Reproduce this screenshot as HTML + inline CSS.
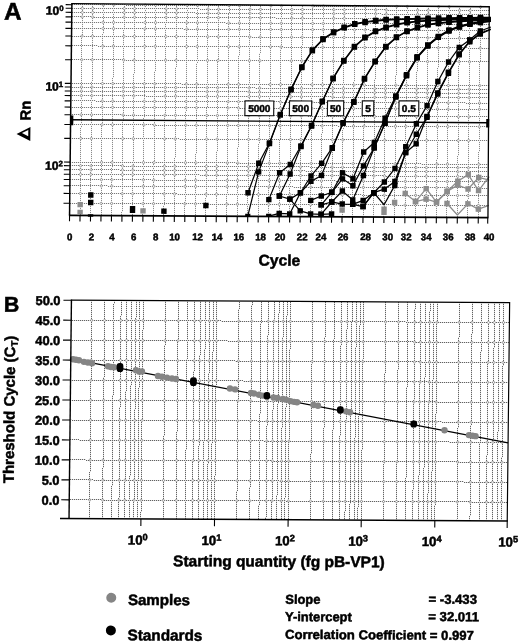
<!DOCTYPE html>
<html><head><meta charset="utf-8"><title>Figure</title>
<style>
html,body{margin:0;padding:0;background:#fff;}
body{width:520px;height:644px;overflow:hidden;font-family:"Liberation Sans",sans-serif;}
svg{display:block;filter:grayscale(1);}
svg text{font-family:"Liberation Sans",sans-serif;font-weight:bold;stroke:#000;stroke-width:0.5px;}
</style></head><body>
<svg width="520" height="644" viewBox="0 0 520 644">
<defs>
<pattern id="av" patternUnits="userSpaceOnUse" width="1" height="2"><rect width="1" height="1" fill="#8a8a8a"/><rect y="1" width="1" height="1" fill="#f1f1f1"/></pattern>
<pattern id="ah" patternUnits="userSpaceOnUse" width="2" height="1"><rect width="1" height="1" fill="#787878"/><rect x="1" width="1" height="1" fill="#ebebeb"/></pattern>
<pattern id="bv" patternUnits="userSpaceOnUse" width="1" height="2"><rect width="1" height="1" fill="#626262"/><rect y="1" width="1" height="1" fill="#dcdcdc"/></pattern>
<pattern id="bh" patternUnits="userSpaceOnUse" width="2" height="1"><rect width="1" height="1" fill="#626262"/><rect x="1" width="1" height="1" fill="#dcdcdc"/></pattern>
</defs>
<rect width="520" height="644" fill="#fff"/>
<g shape-rendering="crispEdges">
<rect x="82" y="4" width="1" height="33" fill="url(#av)"/>
<rect x="81" y="37" width="1" height="91" fill="url(#av)"/>
<rect x="80" y="128" width="1" height="87" fill="url(#av)"/>
<rect x="92" y="4" width="1" height="77" fill="url(#av)"/>
<rect x="91" y="81" width="1" height="91" fill="url(#av)"/>
<rect x="90" y="172" width="1" height="43" fill="url(#av)"/>
<rect x="103" y="4" width="1" height="30" fill="url(#av)"/>
<rect x="102" y="34" width="1" height="91" fill="url(#av)"/>
<rect x="101" y="125" width="1" height="90" fill="url(#av)"/>
<rect x="113" y="4" width="1" height="74" fill="url(#av)"/>
<rect x="112" y="78" width="1" height="90" fill="url(#av)"/>
<rect x="111" y="168" width="1" height="47" fill="url(#av)"/>
<rect x="124" y="4" width="1" height="26" fill="url(#av)"/>
<rect x="123" y="30" width="1" height="91" fill="url(#av)"/>
<rect x="122" y="121" width="1" height="91" fill="url(#av)"/>
<rect x="121" y="212" width="1" height="3" fill="url(#av)"/>
<rect x="134" y="4" width="1" height="70" fill="url(#av)"/>
<rect x="133" y="74" width="1" height="91" fill="url(#av)"/>
<rect x="132" y="165" width="1" height="50" fill="url(#av)"/>
<rect x="145" y="5" width="1" height="22" fill="url(#av)"/>
<rect x="144" y="27" width="1" height="91" fill="url(#av)"/>
<rect x="143" y="118" width="1" height="91" fill="url(#av)"/>
<rect x="142" y="209" width="1" height="6" fill="url(#av)"/>
<rect x="155" y="5" width="1" height="66" fill="url(#av)"/>
<rect x="154" y="71" width="1" height="90" fill="url(#av)"/>
<rect x="153" y="161" width="1" height="54" fill="url(#av)"/>
<rect x="166" y="5" width="1" height="18" fill="url(#av)"/>
<rect x="165" y="23" width="1" height="91" fill="url(#av)"/>
<rect x="164" y="114" width="1" height="91" fill="url(#av)"/>
<rect x="163" y="205" width="1" height="10" fill="url(#av)"/>
<rect x="176" y="5" width="1" height="62" fill="url(#av)"/>
<rect x="175" y="67" width="1" height="91" fill="url(#av)"/>
<rect x="174" y="158" width="1" height="57" fill="url(#av)"/>
<rect x="187" y="5" width="1" height="15" fill="url(#av)"/>
<rect x="186" y="20" width="1" height="91" fill="url(#av)"/>
<rect x="185" y="111" width="1" height="91" fill="url(#av)"/>
<rect x="184" y="202" width="1" height="13" fill="url(#av)"/>
<rect x="197" y="5" width="1" height="58" fill="url(#av)"/>
<rect x="196" y="63" width="1" height="91" fill="url(#av)"/>
<rect x="195" y="154" width="1" height="62" fill="url(#av)"/>
<rect x="208" y="5" width="1" height="11" fill="url(#av)"/>
<rect x="207" y="16" width="1" height="91" fill="url(#av)"/>
<rect x="206" y="107" width="1" height="91" fill="url(#av)"/>
<rect x="205" y="198" width="1" height="18" fill="url(#av)"/>
<rect x="218" y="5" width="1" height="55" fill="url(#av)"/>
<rect x="217" y="60" width="1" height="91" fill="url(#av)"/>
<rect x="216" y="151" width="1" height="65" fill="url(#av)"/>
<rect x="229" y="5" width="1" height="8" fill="url(#av)"/>
<rect x="228" y="13" width="1" height="91" fill="url(#av)"/>
<rect x="227" y="104" width="1" height="91" fill="url(#av)"/>
<rect x="226" y="195" width="1" height="21" fill="url(#av)"/>
<rect x="239" y="5" width="1" height="51" fill="url(#av)"/>
<rect x="238" y="56" width="1" height="91" fill="url(#av)"/>
<rect x="237" y="147" width="1" height="69" fill="url(#av)"/>
<rect x="250" y="5" width="1" height="4" fill="url(#av)"/>
<rect x="249" y="9" width="1" height="91" fill="url(#av)"/>
<rect x="248" y="100" width="1" height="91" fill="url(#av)"/>
<rect x="247" y="191" width="1" height="25" fill="url(#av)"/>
<rect x="260" y="5" width="1" height="48" fill="url(#av)"/>
<rect x="259" y="53" width="1" height="91" fill="url(#av)"/>
<rect x="258" y="144" width="1" height="72" fill="url(#av)"/>
<rect x="271" y="5" width="1" height="1" fill="url(#av)"/>
<rect x="270" y="6" width="1" height="91" fill="url(#av)"/>
<rect x="269" y="97" width="1" height="90" fill="url(#av)"/>
<rect x="268" y="187" width="1" height="29" fill="url(#av)"/>
<rect x="281" y="5" width="1" height="44" fill="url(#av)"/>
<rect x="280" y="49" width="1" height="91" fill="url(#av)"/>
<rect x="279" y="140" width="1" height="76" fill="url(#av)"/>
<rect x="291" y="5" width="1" height="88" fill="url(#av)"/>
<rect x="290" y="93" width="1" height="91" fill="url(#av)"/>
<rect x="289" y="184" width="1" height="32" fill="url(#av)"/>
<rect x="302" y="5" width="1" height="41" fill="url(#av)"/>
<rect x="301" y="46" width="1" height="91" fill="url(#av)"/>
<rect x="300" y="137" width="1" height="79" fill="url(#av)"/>
<rect x="312" y="5" width="1" height="85" fill="url(#av)"/>
<rect x="311" y="90" width="1" height="90" fill="url(#av)"/>
<rect x="310" y="180" width="1" height="36" fill="url(#av)"/>
<rect x="323" y="5" width="1" height="37" fill="url(#av)"/>
<rect x="322" y="42" width="1" height="91" fill="url(#av)"/>
<rect x="321" y="133" width="1" height="83" fill="url(#av)"/>
<rect x="333" y="6" width="1" height="80" fill="url(#av)"/>
<rect x="332" y="86" width="1" height="91" fill="url(#av)"/>
<rect x="331" y="177" width="1" height="39" fill="url(#av)"/>
<rect x="344" y="6" width="1" height="33" fill="url(#av)"/>
<rect x="343" y="39" width="1" height="91" fill="url(#av)"/>
<rect x="342" y="130" width="1" height="86" fill="url(#av)"/>
<rect x="354" y="6" width="1" height="76" fill="url(#av)"/>
<rect x="353" y="82" width="1" height="91" fill="url(#av)"/>
<rect x="352" y="173" width="1" height="43" fill="url(#av)"/>
<rect x="365" y="6" width="1" height="29" fill="url(#av)"/>
<rect x="364" y="35" width="1" height="91" fill="url(#av)"/>
<rect x="363" y="126" width="1" height="90" fill="url(#av)"/>
<rect x="375" y="6" width="1" height="73" fill="url(#av)"/>
<rect x="374" y="79" width="1" height="91" fill="url(#av)"/>
<rect x="373" y="170" width="1" height="47" fill="url(#av)"/>
<rect x="386" y="6" width="1" height="26" fill="url(#av)"/>
<rect x="385" y="32" width="1" height="91" fill="url(#av)"/>
<rect x="384" y="123" width="1" height="91" fill="url(#av)"/>
<rect x="383" y="214" width="1" height="3" fill="url(#av)"/>
<rect x="396" y="6" width="1" height="69" fill="url(#av)"/>
<rect x="395" y="75" width="1" height="91" fill="url(#av)"/>
<rect x="394" y="166" width="1" height="51" fill="url(#av)"/>
<rect x="407" y="6" width="1" height="22" fill="url(#av)"/>
<rect x="406" y="28" width="1" height="91" fill="url(#av)"/>
<rect x="405" y="119" width="1" height="91" fill="url(#av)"/>
<rect x="404" y="210" width="1" height="7" fill="url(#av)"/>
<rect x="417" y="6" width="1" height="66" fill="url(#av)"/>
<rect x="416" y="72" width="1" height="91" fill="url(#av)"/>
<rect x="415" y="163" width="1" height="54" fill="url(#av)"/>
<rect x="428" y="6" width="1" height="19" fill="url(#av)"/>
<rect x="427" y="25" width="1" height="91" fill="url(#av)"/>
<rect x="426" y="116" width="1" height="91" fill="url(#av)"/>
<rect x="425" y="207" width="1" height="10" fill="url(#av)"/>
<rect x="438" y="6" width="1" height="62" fill="url(#av)"/>
<rect x="437" y="68" width="1" height="91" fill="url(#av)"/>
<rect x="436" y="159" width="1" height="58" fill="url(#av)"/>
<rect x="449" y="6" width="1" height="15" fill="url(#av)"/>
<rect x="448" y="21" width="1" height="91" fill="url(#av)"/>
<rect x="447" y="112" width="1" height="91" fill="url(#av)"/>
<rect x="446" y="203" width="1" height="14" fill="url(#av)"/>
<rect x="459" y="6" width="1" height="59" fill="url(#av)"/>
<rect x="458" y="65" width="1" height="91" fill="url(#av)"/>
<rect x="457" y="156" width="1" height="61" fill="url(#av)"/>
<rect x="470" y="6" width="1" height="12" fill="url(#av)"/>
<rect x="469" y="18" width="1" height="91" fill="url(#av)"/>
<rect x="468" y="109" width="1" height="90" fill="url(#av)"/>
<rect x="467" y="199" width="1" height="18" fill="url(#av)"/>
<rect x="480" y="6" width="1" height="55" fill="url(#av)"/>
<rect x="479" y="61" width="1" height="91" fill="url(#av)"/>
<rect x="478" y="152" width="1" height="65" fill="url(#av)"/>
<rect x="72" y="4" width="54" height="1" fill="url(#ah)"/>
<rect x="126" y="5" width="186" height="1" fill="url(#ah)"/>
<rect x="312" y="6" width="178" height="1" fill="url(#ah)"/>
<rect x="72" y="8" width="128" height="1" fill="url(#ah)"/>
<rect x="200" y="9" width="185" height="1" fill="url(#ah)"/>
<rect x="385" y="10" width="105" height="1" fill="url(#ah)"/>
<rect x="72" y="12" width="123" height="1" fill="url(#ah)"/>
<rect x="195" y="13" width="186" height="1" fill="url(#ah)"/>
<rect x="381" y="14" width="108" height="1" fill="url(#ah)"/>
<rect x="72" y="16" width="19" height="1" fill="url(#ah)"/>
<rect x="91" y="17" width="185" height="1" fill="url(#ah)"/>
<rect x="276" y="18" width="185" height="1" fill="url(#ah)"/>
<rect x="461" y="19" width="28" height="1" fill="url(#ah)"/>
<rect x="72" y="22" width="154" height="1" fill="url(#ah)"/>
<rect x="226" y="23" width="186" height="1" fill="url(#ah)"/>
<rect x="412" y="24" width="77" height="1" fill="url(#ah)"/>
<rect x="72" y="28" width="111" height="1" fill="url(#ah)"/>
<rect x="183" y="29" width="186" height="1" fill="url(#ah)"/>
<rect x="369" y="30" width="120" height="1" fill="url(#ah)"/>
<rect x="72" y="36" width="180" height="1" fill="url(#ah)"/>
<rect x="252" y="37" width="186" height="1" fill="url(#ah)"/>
<rect x="438" y="38" width="51" height="1" fill="url(#ah)"/>
<rect x="72" y="45" width="26" height="1" fill="url(#ah)"/>
<rect x="98" y="46" width="185" height="1" fill="url(#ah)"/>
<rect x="283" y="47" width="185" height="1" fill="url(#ah)"/>
<rect x="468" y="48" width="21" height="1" fill="url(#ah)"/>
<rect x="72" y="59" width="52" height="1" fill="url(#ah)"/>
<rect x="124" y="60" width="185" height="1" fill="url(#ah)"/>
<rect x="309" y="61" width="180" height="1" fill="url(#ah)"/>
<rect x="72" y="83" width="109" height="1" fill="url(#ah)"/>
<rect x="181" y="84" width="185" height="1" fill="url(#ah)"/>
<rect x="366" y="85" width="123" height="1" fill="url(#ah)"/>
<rect x="71" y="87" width="184" height="1" fill="url(#ah)"/>
<rect x="255" y="88" width="185" height="1" fill="url(#ah)"/>
<rect x="440" y="89" width="49" height="1" fill="url(#ah)"/>
<rect x="71" y="91" width="179" height="1" fill="url(#ah)"/>
<rect x="250" y="92" width="185" height="1" fill="url(#ah)"/>
<rect x="435" y="93" width="54" height="1" fill="url(#ah)"/>
<rect x="71" y="95" width="75" height="1" fill="url(#ah)"/>
<rect x="146" y="96" width="185" height="1" fill="url(#ah)"/>
<rect x="331" y="97" width="158" height="1" fill="url(#ah)"/>
<rect x="71" y="100" width="25" height="1" fill="url(#ah)"/>
<rect x="96" y="101" width="185" height="1" fill="url(#ah)"/>
<rect x="281" y="102" width="185" height="1" fill="url(#ah)"/>
<rect x="466" y="103" width="23" height="1" fill="url(#ah)"/>
<rect x="71" y="107" width="167" height="1" fill="url(#ah)"/>
<rect x="238" y="108" width="185" height="1" fill="url(#ah)"/>
<rect x="423" y="109" width="65" height="1" fill="url(#ah)"/>
<rect x="71" y="114" width="51" height="1" fill="url(#ah)"/>
<rect x="122" y="115" width="185" height="1" fill="url(#ah)"/>
<rect x="307" y="116" width="181" height="1" fill="url(#ah)"/>
<rect x="71" y="124" width="82" height="1" fill="url(#ah)"/>
<rect x="153" y="125" width="185" height="1" fill="url(#ah)"/>
<rect x="338" y="126" width="150" height="1" fill="url(#ah)"/>
<rect x="71" y="138" width="108" height="1" fill="url(#ah)"/>
<rect x="179" y="139" width="185" height="1" fill="url(#ah)"/>
<rect x="364" y="140" width="124" height="1" fill="url(#ah)"/>
<rect x="71" y="162" width="165" height="1" fill="url(#ah)"/>
<rect x="236" y="163" width="185" height="1" fill="url(#ah)"/>
<rect x="421" y="164" width="67" height="1" fill="url(#ah)"/>
<rect x="71" y="165" width="53" height="1" fill="url(#ah)"/>
<rect x="124" y="166" width="186" height="1" fill="url(#ah)"/>
<rect x="310" y="167" width="178" height="1" fill="url(#ah)"/>
<rect x="71" y="169" width="49" height="1" fill="url(#ah)"/>
<rect x="120" y="170" width="185" height="1" fill="url(#ah)"/>
<rect x="305" y="171" width="183" height="1" fill="url(#ah)"/>
<rect x="71" y="174" width="129" height="1" fill="url(#ah)"/>
<rect x="200" y="175" width="186" height="1" fill="url(#ah)"/>
<rect x="386" y="176" width="102" height="1" fill="url(#ah)"/>
<rect x="70" y="179" width="81" height="1" fill="url(#ah)"/>
<rect x="151" y="180" width="185" height="1" fill="url(#ah)"/>
<rect x="336" y="181" width="152" height="1" fill="url(#ah)"/>
<rect x="70" y="185" width="38" height="1" fill="url(#ah)"/>
<rect x="108" y="186" width="185" height="1" fill="url(#ah)"/>
<rect x="293" y="187" width="185" height="1" fill="url(#ah)"/>
<rect x="478" y="188" width="10" height="1" fill="url(#ah)"/>
<rect x="70" y="193" width="107" height="1" fill="url(#ah)"/>
<rect x="177" y="194" width="185" height="1" fill="url(#ah)"/>
<rect x="362" y="195" width="126" height="1" fill="url(#ah)"/>
<rect x="70" y="203" width="137" height="1" fill="url(#ah)"/>
<rect x="207" y="204" width="186" height="1" fill="url(#ah)"/>
<rect x="393" y="205" width="94" height="1" fill="url(#ah)"/>
<rect x="91" y="301" width="1" height="80" fill="url(#bv)"/>
<rect x="90" y="381" width="1" height="91" fill="url(#bv)"/>
<rect x="89" y="472" width="1" height="46" fill="url(#bv)"/>
<rect x="104" y="301" width="1" height="76" fill="url(#bv)"/>
<rect x="103" y="377" width="1" height="91" fill="url(#bv)"/>
<rect x="102" y="468" width="1" height="50" fill="url(#bv)"/>
<rect x="114" y="301" width="1" height="3" fill="url(#bv)"/>
<rect x="113" y="304" width="1" height="91" fill="url(#bv)"/>
<rect x="112" y="395" width="1" height="91" fill="url(#bv)"/>
<rect x="111" y="486" width="1" height="32" fill="url(#bv)"/>
<rect x="121" y="301" width="1" height="15" fill="url(#bv)"/>
<rect x="120" y="316" width="1" height="91" fill="url(#bv)"/>
<rect x="119" y="407" width="1" height="91" fill="url(#bv)"/>
<rect x="118" y="498" width="1" height="20" fill="url(#bv)"/>
<rect x="126" y="301" width="1" height="90" fill="url(#bv)"/>
<rect x="125" y="391" width="1" height="91" fill="url(#bv)"/>
<rect x="124" y="482" width="1" height="36" fill="url(#bv)"/>
<rect x="131" y="301" width="1" height="84" fill="url(#bv)"/>
<rect x="130" y="385" width="1" height="91" fill="url(#bv)"/>
<rect x="129" y="476" width="1" height="42" fill="url(#bv)"/>
<rect x="136" y="301" width="1" height="17" fill="url(#bv)"/>
<rect x="135" y="318" width="1" height="91" fill="url(#bv)"/>
<rect x="134" y="409" width="1" height="91" fill="url(#bv)"/>
<rect x="133" y="500" width="1" height="18" fill="url(#bv)"/>
<rect x="139" y="301" width="1" height="87" fill="url(#bv)"/>
<rect x="138" y="388" width="1" height="91" fill="url(#bv)"/>
<rect x="137" y="479" width="1" height="39" fill="url(#bv)"/>
<rect x="143" y="301" width="1" height="29" fill="url(#bv)"/>
<rect x="142" y="330" width="1" height="91" fill="url(#bv)"/>
<rect x="141" y="421" width="1" height="91" fill="url(#bv)"/>
<rect x="140" y="512" width="1" height="6" fill="url(#bv)"/>
<rect x="165" y="301" width="1" height="44" fill="url(#bv)"/>
<rect x="164" y="345" width="1" height="91" fill="url(#bv)"/>
<rect x="163" y="436" width="1" height="83" fill="url(#bv)"/>
<rect x="178" y="301" width="1" height="40" fill="url(#bv)"/>
<rect x="177" y="341" width="1" height="91" fill="url(#bv)"/>
<rect x="176" y="432" width="1" height="87" fill="url(#bv)"/>
<rect x="187" y="301" width="1" height="58" fill="url(#bv)"/>
<rect x="186" y="359" width="1" height="91" fill="url(#bv)"/>
<rect x="185" y="450" width="1" height="69" fill="url(#bv)"/>
<rect x="194" y="301" width="1" height="70" fill="url(#bv)"/>
<rect x="193" y="371" width="1" height="91" fill="url(#bv)"/>
<rect x="192" y="462" width="1" height="57" fill="url(#bv)"/>
<rect x="200" y="301" width="1" height="54" fill="url(#bv)"/>
<rect x="199" y="355" width="1" height="91" fill="url(#bv)"/>
<rect x="198" y="446" width="1" height="73" fill="url(#bv)"/>
<rect x="205" y="301" width="1" height="48" fill="url(#bv)"/>
<rect x="204" y="349" width="1" height="91" fill="url(#bv)"/>
<rect x="203" y="440" width="1" height="79" fill="url(#bv)"/>
<rect x="209" y="301" width="1" height="72" fill="url(#bv)"/>
<rect x="208" y="373" width="1" height="91" fill="url(#bv)"/>
<rect x="207" y="464" width="1" height="55" fill="url(#bv)"/>
<rect x="213" y="301" width="1" height="51" fill="url(#bv)"/>
<rect x="212" y="352" width="1" height="91" fill="url(#bv)"/>
<rect x="211" y="443" width="1" height="76" fill="url(#bv)"/>
<rect x="216" y="301" width="1" height="84" fill="url(#bv)"/>
<rect x="215" y="385" width="1" height="91" fill="url(#bv)"/>
<rect x="214" y="476" width="1" height="43" fill="url(#bv)"/>
<rect x="239" y="302" width="1" height="7" fill="url(#bv)"/>
<rect x="238" y="309" width="1" height="91" fill="url(#bv)"/>
<rect x="237" y="400" width="1" height="91" fill="url(#bv)"/>
<rect x="236" y="491" width="1" height="28" fill="url(#bv)"/>
<rect x="252" y="302" width="1" height="3" fill="url(#bv)"/>
<rect x="251" y="305" width="1" height="91" fill="url(#bv)"/>
<rect x="250" y="396" width="1" height="91" fill="url(#bv)"/>
<rect x="249" y="487" width="1" height="32" fill="url(#bv)"/>
<rect x="261" y="302" width="1" height="21" fill="url(#bv)"/>
<rect x="260" y="323" width="1" height="91" fill="url(#bv)"/>
<rect x="259" y="414" width="1" height="91" fill="url(#bv)"/>
<rect x="258" y="505" width="1" height="14" fill="url(#bv)"/>
<rect x="268" y="302" width="1" height="33" fill="url(#bv)"/>
<rect x="267" y="335" width="1" height="91" fill="url(#bv)"/>
<rect x="266" y="426" width="1" height="91" fill="url(#bv)"/>
<rect x="265" y="517" width="1" height="2" fill="url(#bv)"/>
<rect x="274" y="302" width="1" height="18" fill="url(#bv)"/>
<rect x="273" y="320" width="1" height="90" fill="url(#bv)"/>
<rect x="272" y="410" width="1" height="91" fill="url(#bv)"/>
<rect x="271" y="501" width="1" height="18" fill="url(#bv)"/>
<rect x="279" y="302" width="1" height="11" fill="url(#bv)"/>
<rect x="278" y="313" width="1" height="91" fill="url(#bv)"/>
<rect x="277" y="404" width="1" height="91" fill="url(#bv)"/>
<rect x="276" y="495" width="1" height="24" fill="url(#bv)"/>
<rect x="283" y="302" width="1" height="35" fill="url(#bv)"/>
<rect x="282" y="337" width="1" height="91" fill="url(#bv)"/>
<rect x="281" y="428" width="1" height="91" fill="url(#bv)"/>
<rect x="287" y="302" width="1" height="14" fill="url(#bv)"/>
<rect x="286" y="316" width="1" height="91" fill="url(#bv)"/>
<rect x="285" y="407" width="1" height="91" fill="url(#bv)"/>
<rect x="284" y="498" width="1" height="21" fill="url(#bv)"/>
<rect x="290" y="302" width="1" height="47" fill="url(#bv)"/>
<rect x="289" y="349" width="1" height="91" fill="url(#bv)"/>
<rect x="288" y="440" width="1" height="79" fill="url(#bv)"/>
<rect x="312" y="302" width="1" height="62" fill="url(#bv)"/>
<rect x="311" y="364" width="1" height="90" fill="url(#bv)"/>
<rect x="310" y="454" width="1" height="65" fill="url(#bv)"/>
<rect x="325" y="302" width="1" height="35" fill="url(#bv)"/>
<rect x="324" y="337" width="1" height="91" fill="url(#bv)"/>
<rect x="323" y="428" width="1" height="91" fill="url(#bv)"/>
<rect x="334" y="302" width="1" height="37" fill="url(#bv)"/>
<rect x="333" y="339" width="1" height="91" fill="url(#bv)"/>
<rect x="332" y="430" width="1" height="90" fill="url(#bv)"/>
<rect x="341" y="302" width="1" height="43" fill="url(#bv)"/>
<rect x="340" y="345" width="1" height="91" fill="url(#bv)"/>
<rect x="339" y="436" width="1" height="84" fill="url(#bv)"/>
<rect x="347" y="302" width="1" height="27" fill="url(#bv)"/>
<rect x="346" y="329" width="1" height="91" fill="url(#bv)"/>
<rect x="345" y="420" width="1" height="91" fill="url(#bv)"/>
<rect x="344" y="511" width="1" height="9" fill="url(#bv)"/>
<rect x="352" y="302" width="1" height="20" fill="url(#bv)"/>
<rect x="351" y="322" width="1" height="91" fill="url(#bv)"/>
<rect x="350" y="413" width="1" height="91" fill="url(#bv)"/>
<rect x="349" y="504" width="1" height="16" fill="url(#bv)"/>
<rect x="356" y="302" width="1" height="45" fill="url(#bv)"/>
<rect x="355" y="347" width="1" height="91" fill="url(#bv)"/>
<rect x="354" y="438" width="1" height="82" fill="url(#bv)"/>
<rect x="360" y="302" width="1" height="23" fill="url(#bv)"/>
<rect x="359" y="325" width="1" height="91" fill="url(#bv)"/>
<rect x="358" y="416" width="1" height="91" fill="url(#bv)"/>
<rect x="357" y="507" width="1" height="13" fill="url(#bv)"/>
<rect x="363" y="302" width="1" height="57" fill="url(#bv)"/>
<rect x="362" y="359" width="1" height="91" fill="url(#bv)"/>
<rect x="361" y="450" width="1" height="70" fill="url(#bv)"/>
<rect x="385" y="302" width="1" height="71" fill="url(#bv)"/>
<rect x="384" y="373" width="1" height="91" fill="url(#bv)"/>
<rect x="383" y="464" width="1" height="56" fill="url(#bv)"/>
<rect x="398" y="302" width="1" height="68" fill="url(#bv)"/>
<rect x="397" y="370" width="1" height="91" fill="url(#bv)"/>
<rect x="396" y="461" width="1" height="59" fill="url(#bv)"/>
<rect x="407" y="302" width="1" height="85" fill="url(#bv)"/>
<rect x="406" y="387" width="1" height="91" fill="url(#bv)"/>
<rect x="405" y="478" width="1" height="42" fill="url(#bv)"/>
<rect x="415" y="303" width="1" height="6" fill="url(#bv)"/>
<rect x="414" y="309" width="1" height="91" fill="url(#bv)"/>
<rect x="413" y="400" width="1" height="90" fill="url(#bv)"/>
<rect x="412" y="490" width="1" height="30" fill="url(#bv)"/>
<rect x="420" y="303" width="1" height="81" fill="url(#bv)"/>
<rect x="419" y="384" width="1" height="91" fill="url(#bv)"/>
<rect x="418" y="475" width="1" height="45" fill="url(#bv)"/>
<rect x="425" y="303" width="1" height="74" fill="url(#bv)"/>
<rect x="424" y="377" width="1" height="91" fill="url(#bv)"/>
<rect x="423" y="468" width="1" height="52" fill="url(#bv)"/>
<rect x="430" y="303" width="1" height="8" fill="url(#bv)"/>
<rect x="429" y="311" width="1" height="91" fill="url(#bv)"/>
<rect x="428" y="402" width="1" height="91" fill="url(#bv)"/>
<rect x="427" y="493" width="1" height="27" fill="url(#bv)"/>
<rect x="433" y="303" width="1" height="77" fill="url(#bv)"/>
<rect x="432" y="380" width="1" height="91" fill="url(#bv)"/>
<rect x="431" y="471" width="1" height="49" fill="url(#bv)"/>
<rect x="437" y="303" width="1" height="20" fill="url(#bv)"/>
<rect x="436" y="323" width="1" height="91" fill="url(#bv)"/>
<rect x="435" y="414" width="1" height="91" fill="url(#bv)"/>
<rect x="434" y="505" width="1" height="15" fill="url(#bv)"/>
<rect x="459" y="303" width="1" height="34" fill="url(#bv)"/>
<rect x="458" y="337" width="1" height="91" fill="url(#bv)"/>
<rect x="457" y="428" width="1" height="91" fill="url(#bv)"/>
<rect x="456" y="519" width="1" height="1" fill="url(#bv)"/>
<rect x="472" y="303" width="1" height="31" fill="url(#bv)"/>
<rect x="471" y="334" width="1" height="91" fill="url(#bv)"/>
<rect x="470" y="425" width="1" height="91" fill="url(#bv)"/>
<rect x="469" y="516" width="1" height="4" fill="url(#bv)"/>
<rect x="481" y="303" width="1" height="49" fill="url(#bv)"/>
<rect x="480" y="352" width="1" height="90" fill="url(#bv)"/>
<rect x="479" y="442" width="1" height="78" fill="url(#bv)"/>
<rect x="488" y="303" width="1" height="61" fill="url(#bv)"/>
<rect x="487" y="364" width="1" height="91" fill="url(#bv)"/>
<rect x="486" y="455" width="1" height="65" fill="url(#bv)"/>
<rect x="494" y="303" width="1" height="45" fill="url(#bv)"/>
<rect x="493" y="348" width="1" height="91" fill="url(#bv)"/>
<rect x="492" y="439" width="1" height="81" fill="url(#bv)"/>
<rect x="499" y="303" width="1" height="38" fill="url(#bv)"/>
<rect x="498" y="341" width="1" height="91" fill="url(#bv)"/>
<rect x="497" y="432" width="1" height="88" fill="url(#bv)"/>
<rect x="503" y="303" width="1" height="63" fill="url(#bv)"/>
<rect x="502" y="366" width="1" height="91" fill="url(#bv)"/>
<rect x="501" y="457" width="1" height="63" fill="url(#bv)"/>
<rect x="70" y="499" width="31" height="1" fill="url(#bh)"/>
<rect x="101" y="500" width="185" height="1" fill="url(#bh)"/>
<rect x="286" y="501" width="185" height="1" fill="url(#bh)"/>
<rect x="471" y="502" width="36" height="1" fill="url(#bh)"/>
<rect x="70" y="479" width="23" height="1" fill="url(#bh)"/>
<rect x="93" y="480" width="186" height="1" fill="url(#bh)"/>
<rect x="279" y="481" width="185" height="1" fill="url(#bh)"/>
<rect x="464" y="482" width="43" height="1" fill="url(#bh)"/>
<rect x="70" y="459" width="16" height="1" fill="url(#bh)"/>
<rect x="86" y="460" width="185" height="1" fill="url(#bh)"/>
<rect x="271" y="461" width="186" height="1" fill="url(#bh)"/>
<rect x="457" y="462" width="50" height="1" fill="url(#bh)"/>
<rect x="70" y="439" width="9" height="1" fill="url(#bh)"/>
<rect x="79" y="440" width="185" height="1" fill="url(#bh)"/>
<rect x="264" y="441" width="185" height="1" fill="url(#bh)"/>
<rect x="449" y="442" width="59" height="1" fill="url(#bh)"/>
<rect x="71" y="419" width="1" height="1" fill="url(#bh)"/>
<rect x="72" y="420" width="185" height="1" fill="url(#bh)"/>
<rect x="257" y="421" width="185" height="1" fill="url(#bh)"/>
<rect x="442" y="422" width="66" height="1" fill="url(#bh)"/>
<rect x="71" y="400" width="179" height="1" fill="url(#bh)"/>
<rect x="250" y="401" width="185" height="1" fill="url(#bh)"/>
<rect x="435" y="402" width="73" height="1" fill="url(#bh)"/>
<rect x="71" y="380" width="172" height="1" fill="url(#bh)"/>
<rect x="243" y="381" width="185" height="1" fill="url(#bh)"/>
<rect x="428" y="382" width="80" height="1" fill="url(#bh)"/>
<rect x="71" y="360" width="164" height="1" fill="url(#bh)"/>
<rect x="235" y="361" width="186" height="1" fill="url(#bh)"/>
<rect x="421" y="362" width="87" height="1" fill="url(#bh)"/>
<rect x="71" y="340" width="157" height="1" fill="url(#bh)"/>
<rect x="228" y="341" width="185" height="1" fill="url(#bh)"/>
<rect x="413" y="342" width="96" height="1" fill="url(#bh)"/>
<rect x="72" y="320" width="149" height="1" fill="url(#bh)"/>
<rect x="221" y="321" width="185" height="1" fill="url(#bh)"/>
<rect x="406" y="322" width="103" height="1" fill="url(#bh)"/>
</g>
<g transform="matrix(1 0.0054 -0.011 1 3.542 -1.404)">
<g fill="#fff" stroke="#777" stroke-width="0.6"><circle cx="99.84" cy="5.74" r="1.15"/><circle cx="110.32" cy="5.74" r="1.15"/><circle cx="141.76" cy="5.74" r="1.15"/><circle cx="152.24" cy="5.74" r="1.15"/><circle cx="183.68" cy="5.74" r="1.15"/><circle cx="194.16" cy="5.74" r="1.15"/><circle cx="225.60" cy="5.74" r="1.15"/><circle cx="236.08" cy="5.74" r="1.15"/><circle cx="267.52" cy="5.74" r="1.15"/><circle cx="278.00" cy="5.74" r="1.15"/><circle cx="309.44" cy="5.74" r="1.15"/><circle cx="319.92" cy="5.74" r="1.15"/><circle cx="351.36" cy="5.74" r="1.15"/><circle cx="361.84" cy="5.74" r="1.15"/><circle cx="393.28" cy="5.74" r="1.15"/><circle cx="403.76" cy="5.74" r="1.15"/><circle cx="435.20" cy="5.74" r="1.15"/><circle cx="445.68" cy="5.74" r="1.15"/><circle cx="477.12" cy="5.74" r="1.15"/><circle cx="78.88" cy="9.34" r="1.15"/><circle cx="89.36" cy="9.34" r="1.15"/><circle cx="120.80" cy="9.34" r="1.15"/><circle cx="131.28" cy="9.34" r="1.15"/><circle cx="162.72" cy="9.34" r="1.15"/><circle cx="173.20" cy="9.34" r="1.15"/><circle cx="204.64" cy="9.34" r="1.15"/><circle cx="215.12" cy="9.34" r="1.15"/><circle cx="246.56" cy="9.34" r="1.15"/><circle cx="257.04" cy="9.34" r="1.15"/><circle cx="288.48" cy="9.34" r="1.15"/><circle cx="298.96" cy="9.34" r="1.15"/><circle cx="330.40" cy="9.34" r="1.15"/><circle cx="340.88" cy="9.34" r="1.15"/><circle cx="372.32" cy="9.34" r="1.15"/><circle cx="382.80" cy="9.34" r="1.15"/><circle cx="414.24" cy="9.34" r="1.15"/><circle cx="424.72" cy="9.34" r="1.15"/><circle cx="456.16" cy="9.34" r="1.15"/><circle cx="466.64" cy="9.34" r="1.15"/><circle cx="78.88" cy="13.37" r="1.15"/><circle cx="89.36" cy="13.37" r="1.15"/><circle cx="120.80" cy="13.37" r="1.15"/><circle cx="131.28" cy="13.37" r="1.15"/><circle cx="162.72" cy="13.37" r="1.15"/><circle cx="173.20" cy="13.37" r="1.15"/><circle cx="204.64" cy="13.37" r="1.15"/><circle cx="215.12" cy="13.37" r="1.15"/><circle cx="246.56" cy="13.37" r="1.15"/><circle cx="257.04" cy="13.37" r="1.15"/><circle cx="288.48" cy="13.37" r="1.15"/><circle cx="298.96" cy="13.37" r="1.15"/><circle cx="330.40" cy="13.37" r="1.15"/><circle cx="340.88" cy="13.37" r="1.15"/><circle cx="372.32" cy="13.37" r="1.15"/><circle cx="382.80" cy="13.37" r="1.15"/><circle cx="414.24" cy="13.37" r="1.15"/><circle cx="424.72" cy="13.37" r="1.15"/><circle cx="456.16" cy="13.37" r="1.15"/><circle cx="466.64" cy="13.37" r="1.15"/><circle cx="78.88" cy="17.93" r="1.15"/><circle cx="89.36" cy="17.93" r="1.15"/><circle cx="120.80" cy="17.93" r="1.15"/><circle cx="131.28" cy="17.93" r="1.15"/><circle cx="162.72" cy="17.93" r="1.15"/><circle cx="173.20" cy="17.93" r="1.15"/><circle cx="204.64" cy="17.93" r="1.15"/><circle cx="215.12" cy="17.93" r="1.15"/><circle cx="246.56" cy="17.93" r="1.15"/><circle cx="257.04" cy="17.93" r="1.15"/><circle cx="288.48" cy="17.93" r="1.15"/><circle cx="298.96" cy="17.93" r="1.15"/><circle cx="330.40" cy="17.93" r="1.15"/><circle cx="340.88" cy="17.93" r="1.15"/><circle cx="372.32" cy="17.93" r="1.15"/><circle cx="382.80" cy="17.93" r="1.15"/><circle cx="414.24" cy="17.93" r="1.15"/><circle cx="424.72" cy="17.93" r="1.15"/><circle cx="456.16" cy="17.93" r="1.15"/><circle cx="466.64" cy="17.93" r="1.15"/><circle cx="99.84" cy="23.20" r="1.15"/><circle cx="110.32" cy="23.20" r="1.15"/><circle cx="141.76" cy="23.20" r="1.15"/><circle cx="152.24" cy="23.20" r="1.15"/><circle cx="183.68" cy="23.20" r="1.15"/><circle cx="194.16" cy="23.20" r="1.15"/><circle cx="225.60" cy="23.20" r="1.15"/><circle cx="236.08" cy="23.20" r="1.15"/><circle cx="267.52" cy="23.20" r="1.15"/><circle cx="278.00" cy="23.20" r="1.15"/><circle cx="309.44" cy="23.20" r="1.15"/><circle cx="319.92" cy="23.20" r="1.15"/><circle cx="351.36" cy="23.20" r="1.15"/><circle cx="361.84" cy="23.20" r="1.15"/><circle cx="393.28" cy="23.20" r="1.15"/><circle cx="403.76" cy="23.20" r="1.15"/><circle cx="435.20" cy="23.20" r="1.15"/><circle cx="445.68" cy="23.20" r="1.15"/><circle cx="477.12" cy="23.20" r="1.15"/><circle cx="99.84" cy="29.43" r="1.15"/><circle cx="110.32" cy="29.43" r="1.15"/><circle cx="141.76" cy="29.43" r="1.15"/><circle cx="152.24" cy="29.43" r="1.15"/><circle cx="183.68" cy="29.43" r="1.15"/><circle cx="194.16" cy="29.43" r="1.15"/><circle cx="225.60" cy="29.43" r="1.15"/><circle cx="236.08" cy="29.43" r="1.15"/><circle cx="267.52" cy="29.43" r="1.15"/><circle cx="278.00" cy="29.43" r="1.15"/><circle cx="309.44" cy="29.43" r="1.15"/><circle cx="319.92" cy="29.43" r="1.15"/><circle cx="351.36" cy="29.43" r="1.15"/><circle cx="361.84" cy="29.43" r="1.15"/><circle cx="393.28" cy="29.43" r="1.15"/><circle cx="403.76" cy="29.43" r="1.15"/><circle cx="435.20" cy="29.43" r="1.15"/><circle cx="445.68" cy="29.43" r="1.15"/><circle cx="477.12" cy="29.43" r="1.15"/><circle cx="78.88" cy="37.06" r="1.15"/><circle cx="89.36" cy="37.06" r="1.15"/><circle cx="120.80" cy="37.06" r="1.15"/><circle cx="131.28" cy="37.06" r="1.15"/><circle cx="162.72" cy="37.06" r="1.15"/><circle cx="173.20" cy="37.06" r="1.15"/><circle cx="204.64" cy="37.06" r="1.15"/><circle cx="215.12" cy="37.06" r="1.15"/><circle cx="246.56" cy="37.06" r="1.15"/><circle cx="257.04" cy="37.06" r="1.15"/><circle cx="288.48" cy="37.06" r="1.15"/><circle cx="298.96" cy="37.06" r="1.15"/><circle cx="330.40" cy="37.06" r="1.15"/><circle cx="340.88" cy="37.06" r="1.15"/><circle cx="372.32" cy="37.06" r="1.15"/><circle cx="382.80" cy="37.06" r="1.15"/><circle cx="414.24" cy="37.06" r="1.15"/><circle cx="424.72" cy="37.06" r="1.15"/><circle cx="456.16" cy="37.06" r="1.15"/><circle cx="466.64" cy="37.06" r="1.15"/><circle cx="99.84" cy="46.89" r="1.15"/><circle cx="110.32" cy="46.89" r="1.15"/><circle cx="141.76" cy="46.89" r="1.15"/><circle cx="152.24" cy="46.89" r="1.15"/><circle cx="183.68" cy="46.89" r="1.15"/><circle cx="194.16" cy="46.89" r="1.15"/><circle cx="225.60" cy="46.89" r="1.15"/><circle cx="236.08" cy="46.89" r="1.15"/><circle cx="267.52" cy="46.89" r="1.15"/><circle cx="278.00" cy="46.89" r="1.15"/><circle cx="309.44" cy="46.89" r="1.15"/><circle cx="319.92" cy="46.89" r="1.15"/><circle cx="351.36" cy="46.89" r="1.15"/><circle cx="361.84" cy="46.89" r="1.15"/><circle cx="393.28" cy="46.89" r="1.15"/><circle cx="403.76" cy="46.89" r="1.15"/><circle cx="435.20" cy="46.89" r="1.15"/><circle cx="445.68" cy="46.89" r="1.15"/><circle cx="477.12" cy="46.89" r="1.15"/><circle cx="78.88" cy="60.75" r="1.15"/><circle cx="89.36" cy="60.75" r="1.15"/><circle cx="120.80" cy="60.75" r="1.15"/><circle cx="131.28" cy="60.75" r="1.15"/><circle cx="162.72" cy="60.75" r="1.15"/><circle cx="173.20" cy="60.75" r="1.15"/><circle cx="204.64" cy="60.75" r="1.15"/><circle cx="215.12" cy="60.75" r="1.15"/><circle cx="246.56" cy="60.75" r="1.15"/><circle cx="257.04" cy="60.75" r="1.15"/><circle cx="288.48" cy="60.75" r="1.15"/><circle cx="298.96" cy="60.75" r="1.15"/><circle cx="330.40" cy="60.75" r="1.15"/><circle cx="340.88" cy="60.75" r="1.15"/><circle cx="372.32" cy="60.75" r="1.15"/><circle cx="382.80" cy="60.75" r="1.15"/><circle cx="414.24" cy="60.75" r="1.15"/><circle cx="424.72" cy="60.75" r="1.15"/><circle cx="456.16" cy="60.75" r="1.15"/><circle cx="466.64" cy="60.75" r="1.15"/><circle cx="99.84" cy="84.44" r="1.15"/><circle cx="110.32" cy="84.44" r="1.15"/><circle cx="141.76" cy="84.44" r="1.15"/><circle cx="152.24" cy="84.44" r="1.15"/><circle cx="183.68" cy="84.44" r="1.15"/><circle cx="194.16" cy="84.44" r="1.15"/><circle cx="225.60" cy="84.44" r="1.15"/><circle cx="236.08" cy="84.44" r="1.15"/><circle cx="267.52" cy="84.44" r="1.15"/><circle cx="278.00" cy="84.44" r="1.15"/><circle cx="309.44" cy="84.44" r="1.15"/><circle cx="319.92" cy="84.44" r="1.15"/><circle cx="351.36" cy="84.44" r="1.15"/><circle cx="361.84" cy="84.44" r="1.15"/><circle cx="393.28" cy="84.44" r="1.15"/><circle cx="403.76" cy="84.44" r="1.15"/><circle cx="435.20" cy="84.44" r="1.15"/><circle cx="445.68" cy="84.44" r="1.15"/><circle cx="477.12" cy="84.44" r="1.15"/><circle cx="78.88" cy="88.04" r="1.15"/><circle cx="89.36" cy="88.04" r="1.15"/><circle cx="120.80" cy="88.04" r="1.15"/><circle cx="131.28" cy="88.04" r="1.15"/><circle cx="162.72" cy="88.04" r="1.15"/><circle cx="173.20" cy="88.04" r="1.15"/><circle cx="204.64" cy="88.04" r="1.15"/><circle cx="215.12" cy="88.04" r="1.15"/><circle cx="246.56" cy="88.04" r="1.15"/><circle cx="257.04" cy="88.04" r="1.15"/><circle cx="288.48" cy="88.04" r="1.15"/><circle cx="298.96" cy="88.04" r="1.15"/><circle cx="330.40" cy="88.04" r="1.15"/><circle cx="340.88" cy="88.04" r="1.15"/><circle cx="372.32" cy="88.04" r="1.15"/><circle cx="382.80" cy="88.04" r="1.15"/><circle cx="414.24" cy="88.04" r="1.15"/><circle cx="424.72" cy="88.04" r="1.15"/><circle cx="456.16" cy="88.04" r="1.15"/><circle cx="466.64" cy="88.04" r="1.15"/><circle cx="78.88" cy="92.07" r="1.15"/><circle cx="89.36" cy="92.07" r="1.15"/><circle cx="120.80" cy="92.07" r="1.15"/><circle cx="131.28" cy="92.07" r="1.15"/><circle cx="162.72" cy="92.07" r="1.15"/><circle cx="173.20" cy="92.07" r="1.15"/><circle cx="204.64" cy="92.07" r="1.15"/><circle cx="215.12" cy="92.07" r="1.15"/><circle cx="246.56" cy="92.07" r="1.15"/><circle cx="257.04" cy="92.07" r="1.15"/><circle cx="288.48" cy="92.07" r="1.15"/><circle cx="298.96" cy="92.07" r="1.15"/><circle cx="330.40" cy="92.07" r="1.15"/><circle cx="340.88" cy="92.07" r="1.15"/><circle cx="372.32" cy="92.07" r="1.15"/><circle cx="382.80" cy="92.07" r="1.15"/><circle cx="414.24" cy="92.07" r="1.15"/><circle cx="424.72" cy="92.07" r="1.15"/><circle cx="456.16" cy="92.07" r="1.15"/><circle cx="466.64" cy="92.07" r="1.15"/><circle cx="78.88" cy="96.63" r="1.15"/><circle cx="89.36" cy="96.63" r="1.15"/><circle cx="120.80" cy="96.63" r="1.15"/><circle cx="131.28" cy="96.63" r="1.15"/><circle cx="162.72" cy="96.63" r="1.15"/><circle cx="173.20" cy="96.63" r="1.15"/><circle cx="204.64" cy="96.63" r="1.15"/><circle cx="215.12" cy="96.63" r="1.15"/><circle cx="246.56" cy="96.63" r="1.15"/><circle cx="257.04" cy="96.63" r="1.15"/><circle cx="288.48" cy="96.63" r="1.15"/><circle cx="298.96" cy="96.63" r="1.15"/><circle cx="330.40" cy="96.63" r="1.15"/><circle cx="340.88" cy="96.63" r="1.15"/><circle cx="372.32" cy="96.63" r="1.15"/><circle cx="382.80" cy="96.63" r="1.15"/><circle cx="414.24" cy="96.63" r="1.15"/><circle cx="424.72" cy="96.63" r="1.15"/><circle cx="456.16" cy="96.63" r="1.15"/><circle cx="466.64" cy="96.63" r="1.15"/><circle cx="99.84" cy="101.90" r="1.15"/><circle cx="110.32" cy="101.90" r="1.15"/><circle cx="141.76" cy="101.90" r="1.15"/><circle cx="152.24" cy="101.90" r="1.15"/><circle cx="183.68" cy="101.90" r="1.15"/><circle cx="194.16" cy="101.90" r="1.15"/><circle cx="225.60" cy="101.90" r="1.15"/><circle cx="236.08" cy="101.90" r="1.15"/><circle cx="267.52" cy="101.90" r="1.15"/><circle cx="278.00" cy="101.90" r="1.15"/><circle cx="309.44" cy="101.90" r="1.15"/><circle cx="319.92" cy="101.90" r="1.15"/><circle cx="351.36" cy="101.90" r="1.15"/><circle cx="361.84" cy="101.90" r="1.15"/><circle cx="393.28" cy="101.90" r="1.15"/><circle cx="403.76" cy="101.90" r="1.15"/><circle cx="435.20" cy="101.90" r="1.15"/><circle cx="445.68" cy="101.90" r="1.15"/><circle cx="477.12" cy="101.90" r="1.15"/><circle cx="99.84" cy="108.13" r="1.15"/><circle cx="110.32" cy="108.13" r="1.15"/><circle cx="141.76" cy="108.13" r="1.15"/><circle cx="152.24" cy="108.13" r="1.15"/><circle cx="183.68" cy="108.13" r="1.15"/><circle cx="194.16" cy="108.13" r="1.15"/><circle cx="225.60" cy="108.13" r="1.15"/><circle cx="236.08" cy="108.13" r="1.15"/><circle cx="267.52" cy="108.13" r="1.15"/><circle cx="278.00" cy="108.13" r="1.15"/><circle cx="309.44" cy="108.13" r="1.15"/><circle cx="319.92" cy="108.13" r="1.15"/><circle cx="351.36" cy="108.13" r="1.15"/><circle cx="361.84" cy="108.13" r="1.15"/><circle cx="393.28" cy="108.13" r="1.15"/><circle cx="403.76" cy="108.13" r="1.15"/><circle cx="435.20" cy="108.13" r="1.15"/><circle cx="445.68" cy="108.13" r="1.15"/><circle cx="477.12" cy="108.13" r="1.15"/><circle cx="78.88" cy="115.76" r="1.15"/><circle cx="89.36" cy="115.76" r="1.15"/><circle cx="120.80" cy="115.76" r="1.15"/><circle cx="131.28" cy="115.76" r="1.15"/><circle cx="162.72" cy="115.76" r="1.15"/><circle cx="173.20" cy="115.76" r="1.15"/><circle cx="204.64" cy="115.76" r="1.15"/><circle cx="215.12" cy="115.76" r="1.15"/><circle cx="246.56" cy="115.76" r="1.15"/><circle cx="257.04" cy="115.76" r="1.15"/><circle cx="288.48" cy="115.76" r="1.15"/><circle cx="298.96" cy="115.76" r="1.15"/><circle cx="330.40" cy="115.76" r="1.15"/><circle cx="340.88" cy="115.76" r="1.15"/><circle cx="372.32" cy="115.76" r="1.15"/><circle cx="382.80" cy="115.76" r="1.15"/><circle cx="414.24" cy="115.76" r="1.15"/><circle cx="424.72" cy="115.76" r="1.15"/><circle cx="456.16" cy="115.76" r="1.15"/><circle cx="466.64" cy="115.76" r="1.15"/><circle cx="99.84" cy="125.59" r="1.15"/><circle cx="110.32" cy="125.59" r="1.15"/><circle cx="141.76" cy="125.59" r="1.15"/><circle cx="152.24" cy="125.59" r="1.15"/><circle cx="183.68" cy="125.59" r="1.15"/><circle cx="194.16" cy="125.59" r="1.15"/><circle cx="225.60" cy="125.59" r="1.15"/><circle cx="236.08" cy="125.59" r="1.15"/><circle cx="267.52" cy="125.59" r="1.15"/><circle cx="278.00" cy="125.59" r="1.15"/><circle cx="309.44" cy="125.59" r="1.15"/><circle cx="319.92" cy="125.59" r="1.15"/><circle cx="351.36" cy="125.59" r="1.15"/><circle cx="361.84" cy="125.59" r="1.15"/><circle cx="393.28" cy="125.59" r="1.15"/><circle cx="403.76" cy="125.59" r="1.15"/><circle cx="435.20" cy="125.59" r="1.15"/><circle cx="445.68" cy="125.59" r="1.15"/><circle cx="477.12" cy="125.59" r="1.15"/><circle cx="78.88" cy="139.45" r="1.15"/><circle cx="89.36" cy="139.45" r="1.15"/><circle cx="120.80" cy="139.45" r="1.15"/><circle cx="131.28" cy="139.45" r="1.15"/><circle cx="162.72" cy="139.45" r="1.15"/><circle cx="173.20" cy="139.45" r="1.15"/><circle cx="204.64" cy="139.45" r="1.15"/><circle cx="215.12" cy="139.45" r="1.15"/><circle cx="246.56" cy="139.45" r="1.15"/><circle cx="257.04" cy="139.45" r="1.15"/><circle cx="288.48" cy="139.45" r="1.15"/><circle cx="298.96" cy="139.45" r="1.15"/><circle cx="330.40" cy="139.45" r="1.15"/><circle cx="340.88" cy="139.45" r="1.15"/><circle cx="372.32" cy="139.45" r="1.15"/><circle cx="382.80" cy="139.45" r="1.15"/><circle cx="414.24" cy="139.45" r="1.15"/><circle cx="424.72" cy="139.45" r="1.15"/><circle cx="456.16" cy="139.45" r="1.15"/><circle cx="466.64" cy="139.45" r="1.15"/><circle cx="99.84" cy="163.14" r="1.15"/><circle cx="110.32" cy="163.14" r="1.15"/><circle cx="141.76" cy="163.14" r="1.15"/><circle cx="152.24" cy="163.14" r="1.15"/><circle cx="183.68" cy="163.14" r="1.15"/><circle cx="194.16" cy="163.14" r="1.15"/><circle cx="225.60" cy="163.14" r="1.15"/><circle cx="236.08" cy="163.14" r="1.15"/><circle cx="267.52" cy="163.14" r="1.15"/><circle cx="278.00" cy="163.14" r="1.15"/><circle cx="309.44" cy="163.14" r="1.15"/><circle cx="319.92" cy="163.14" r="1.15"/><circle cx="351.36" cy="163.14" r="1.15"/><circle cx="361.84" cy="163.14" r="1.15"/><circle cx="393.28" cy="163.14" r="1.15"/><circle cx="403.76" cy="163.14" r="1.15"/><circle cx="435.20" cy="163.14" r="1.15"/><circle cx="445.68" cy="163.14" r="1.15"/><circle cx="477.12" cy="163.14" r="1.15"/><circle cx="78.88" cy="166.74" r="1.15"/><circle cx="89.36" cy="166.74" r="1.15"/><circle cx="120.80" cy="166.74" r="1.15"/><circle cx="131.28" cy="166.74" r="1.15"/><circle cx="162.72" cy="166.74" r="1.15"/><circle cx="173.20" cy="166.74" r="1.15"/><circle cx="204.64" cy="166.74" r="1.15"/><circle cx="215.12" cy="166.74" r="1.15"/><circle cx="246.56" cy="166.74" r="1.15"/><circle cx="257.04" cy="166.74" r="1.15"/><circle cx="288.48" cy="166.74" r="1.15"/><circle cx="298.96" cy="166.74" r="1.15"/><circle cx="330.40" cy="166.74" r="1.15"/><circle cx="340.88" cy="166.74" r="1.15"/><circle cx="372.32" cy="166.74" r="1.15"/><circle cx="382.80" cy="166.74" r="1.15"/><circle cx="414.24" cy="166.74" r="1.15"/><circle cx="424.72" cy="166.74" r="1.15"/><circle cx="456.16" cy="166.74" r="1.15"/><circle cx="466.64" cy="166.74" r="1.15"/><circle cx="78.88" cy="170.77" r="1.15"/><circle cx="89.36" cy="170.77" r="1.15"/><circle cx="120.80" cy="170.77" r="1.15"/><circle cx="131.28" cy="170.77" r="1.15"/><circle cx="162.72" cy="170.77" r="1.15"/><circle cx="173.20" cy="170.77" r="1.15"/><circle cx="204.64" cy="170.77" r="1.15"/><circle cx="215.12" cy="170.77" r="1.15"/><circle cx="246.56" cy="170.77" r="1.15"/><circle cx="257.04" cy="170.77" r="1.15"/><circle cx="288.48" cy="170.77" r="1.15"/><circle cx="298.96" cy="170.77" r="1.15"/><circle cx="330.40" cy="170.77" r="1.15"/><circle cx="340.88" cy="170.77" r="1.15"/><circle cx="372.32" cy="170.77" r="1.15"/><circle cx="382.80" cy="170.77" r="1.15"/><circle cx="414.24" cy="170.77" r="1.15"/><circle cx="424.72" cy="170.77" r="1.15"/><circle cx="456.16" cy="170.77" r="1.15"/><circle cx="466.64" cy="170.77" r="1.15"/><circle cx="78.88" cy="175.33" r="1.15"/><circle cx="89.36" cy="175.33" r="1.15"/><circle cx="120.80" cy="175.33" r="1.15"/><circle cx="131.28" cy="175.33" r="1.15"/><circle cx="162.72" cy="175.33" r="1.15"/><circle cx="173.20" cy="175.33" r="1.15"/><circle cx="204.64" cy="175.33" r="1.15"/><circle cx="215.12" cy="175.33" r="1.15"/><circle cx="246.56" cy="175.33" r="1.15"/><circle cx="257.04" cy="175.33" r="1.15"/><circle cx="288.48" cy="175.33" r="1.15"/><circle cx="298.96" cy="175.33" r="1.15"/><circle cx="330.40" cy="175.33" r="1.15"/><circle cx="340.88" cy="175.33" r="1.15"/><circle cx="372.32" cy="175.33" r="1.15"/><circle cx="382.80" cy="175.33" r="1.15"/><circle cx="414.24" cy="175.33" r="1.15"/><circle cx="424.72" cy="175.33" r="1.15"/><circle cx="456.16" cy="175.33" r="1.15"/><circle cx="466.64" cy="175.33" r="1.15"/><circle cx="99.84" cy="180.60" r="1.15"/><circle cx="110.32" cy="180.60" r="1.15"/><circle cx="141.76" cy="180.60" r="1.15"/><circle cx="152.24" cy="180.60" r="1.15"/><circle cx="183.68" cy="180.60" r="1.15"/><circle cx="194.16" cy="180.60" r="1.15"/><circle cx="225.60" cy="180.60" r="1.15"/><circle cx="236.08" cy="180.60" r="1.15"/><circle cx="267.52" cy="180.60" r="1.15"/><circle cx="278.00" cy="180.60" r="1.15"/><circle cx="309.44" cy="180.60" r="1.15"/><circle cx="319.92" cy="180.60" r="1.15"/><circle cx="351.36" cy="180.60" r="1.15"/><circle cx="361.84" cy="180.60" r="1.15"/><circle cx="393.28" cy="180.60" r="1.15"/><circle cx="403.76" cy="180.60" r="1.15"/><circle cx="435.20" cy="180.60" r="1.15"/><circle cx="445.68" cy="180.60" r="1.15"/><circle cx="477.12" cy="180.60" r="1.15"/><circle cx="99.84" cy="186.83" r="1.15"/><circle cx="110.32" cy="186.83" r="1.15"/><circle cx="141.76" cy="186.83" r="1.15"/><circle cx="152.24" cy="186.83" r="1.15"/><circle cx="183.68" cy="186.83" r="1.15"/><circle cx="194.16" cy="186.83" r="1.15"/><circle cx="225.60" cy="186.83" r="1.15"/><circle cx="236.08" cy="186.83" r="1.15"/><circle cx="267.52" cy="186.83" r="1.15"/><circle cx="278.00" cy="186.83" r="1.15"/><circle cx="309.44" cy="186.83" r="1.15"/><circle cx="319.92" cy="186.83" r="1.15"/><circle cx="351.36" cy="186.83" r="1.15"/><circle cx="361.84" cy="186.83" r="1.15"/><circle cx="393.28" cy="186.83" r="1.15"/><circle cx="403.76" cy="186.83" r="1.15"/><circle cx="435.20" cy="186.83" r="1.15"/><circle cx="445.68" cy="186.83" r="1.15"/><circle cx="477.12" cy="186.83" r="1.15"/><circle cx="78.88" cy="194.46" r="1.15"/><circle cx="89.36" cy="194.46" r="1.15"/><circle cx="120.80" cy="194.46" r="1.15"/><circle cx="131.28" cy="194.46" r="1.15"/><circle cx="162.72" cy="194.46" r="1.15"/><circle cx="173.20" cy="194.46" r="1.15"/><circle cx="204.64" cy="194.46" r="1.15"/><circle cx="215.12" cy="194.46" r="1.15"/><circle cx="246.56" cy="194.46" r="1.15"/><circle cx="257.04" cy="194.46" r="1.15"/><circle cx="288.48" cy="194.46" r="1.15"/><circle cx="298.96" cy="194.46" r="1.15"/><circle cx="330.40" cy="194.46" r="1.15"/><circle cx="340.88" cy="194.46" r="1.15"/><circle cx="372.32" cy="194.46" r="1.15"/><circle cx="382.80" cy="194.46" r="1.15"/><circle cx="414.24" cy="194.46" r="1.15"/><circle cx="424.72" cy="194.46" r="1.15"/><circle cx="456.16" cy="194.46" r="1.15"/><circle cx="466.64" cy="194.46" r="1.15"/><circle cx="99.84" cy="204.29" r="1.15"/><circle cx="110.32" cy="204.29" r="1.15"/><circle cx="141.76" cy="204.29" r="1.15"/><circle cx="152.24" cy="204.29" r="1.15"/><circle cx="183.68" cy="204.29" r="1.15"/><circle cx="194.16" cy="204.29" r="1.15"/><circle cx="225.60" cy="204.29" r="1.15"/><circle cx="236.08" cy="204.29" r="1.15"/><circle cx="267.52" cy="204.29" r="1.15"/><circle cx="278.00" cy="204.29" r="1.15"/><circle cx="309.44" cy="204.29" r="1.15"/><circle cx="319.92" cy="204.29" r="1.15"/><circle cx="351.36" cy="204.29" r="1.15"/><circle cx="361.84" cy="204.29" r="1.15"/><circle cx="393.28" cy="204.29" r="1.15"/><circle cx="403.76" cy="204.29" r="1.15"/><circle cx="435.20" cy="204.29" r="1.15"/><circle cx="445.68" cy="204.29" r="1.15"/><circle cx="477.12" cy="204.29" r="1.15"/></g>
<g id="seriesA">
<path d="M403.8 192.7L414.2 200.7L424.7 187.8L435.2 201.1L445.7 190.5L456.2 180.2L466.6 173.5L477.1 189.4L487.6 175.3" stroke="#8c8c8c" stroke-width="1.25" fill="none" stroke-linejoin="round"/><rect x="401.1" y="190.0" width="5.4" height="5.4" fill="#8c8c8c"/><rect x="411.5" y="198.0" width="5.4" height="5.4" fill="#8c8c8c"/><rect x="422.0" y="185.1" width="5.4" height="5.4" fill="#8c8c8c"/><rect x="432.5" y="198.4" width="5.4" height="5.4" fill="#8c8c8c"/><rect x="443.0" y="187.8" width="5.4" height="5.4" fill="#8c8c8c"/><rect x="453.5" y="177.5" width="5.4" height="5.4" fill="#8c8c8c"/><rect x="463.9" y="170.8" width="5.4" height="5.4" fill="#8c8c8c"/><rect x="474.4" y="186.7" width="5.4" height="5.4" fill="#8c8c8c"/>
<path d="M414.2 200.7L424.7 198.3L435.2 201.1L445.7 190.5L456.2 184.1L466.6 187.9L477.1 176.3L487.6 178.8" stroke="#8c8c8c" stroke-width="1.25" fill="none" stroke-linejoin="round"/><rect x="411.5" y="198.0" width="5.4" height="5.4" fill="#8c8c8c"/><rect x="422.0" y="195.6" width="5.4" height="5.4" fill="#8c8c8c"/><rect x="432.5" y="198.4" width="5.4" height="5.4" fill="#8c8c8c"/><rect x="443.0" y="187.8" width="5.4" height="5.4" fill="#8c8c8c"/><rect x="453.5" y="181.4" width="5.4" height="5.4" fill="#8c8c8c"/><rect x="463.9" y="185.2" width="5.4" height="5.4" fill="#8c8c8c"/><rect x="474.4" y="173.6" width="5.4" height="5.4" fill="#8c8c8c"/>
<path d="M445.7 202.5L456.2 213.9L466.6 202.7L477.1 208.0L487.6 204.2" stroke="#8c8c8c" stroke-width="1.25" fill="none" stroke-linejoin="round"/><rect x="443.0" y="199.8" width="5.4" height="5.4" fill="#8c8c8c"/><rect x="463.9" y="200.0" width="5.4" height="5.4" fill="#8c8c8c"/><rect x="474.4" y="205.3" width="5.4" height="5.4" fill="#8c8c8c"/>
<rect x="76.2" y="202.9" width="5.4" height="5.4" fill="#8c8c8c"/>
<rect x="76.2" y="210.7" width="5.4" height="4.4" fill="#8c8c8c"/>
<rect x="139.1" y="208.8" width="5.4" height="5.4" fill="#8c8c8c"/>
<rect x="338.2" y="206.9" width="5.4" height="5.4" fill="#8c8c8c"/>
<rect x="380.1" y="205.9" width="5.4" height="8.4" fill="#8c8c8c"/>
<rect x="390.6" y="199.1" width="5.4" height="5.4" fill="#8c8c8c"/>
<path d="M288.5 199.0L299.0 210.6L309.4 213.7L319.9 214.0L330.4 213.6" stroke="#000" stroke-width="1.25" fill="none" stroke-linejoin="round"/><rect x="285.8" y="196.3" width="5.4" height="5.4" fill="#000"/><rect x="296.3" y="207.9" width="5.4" height="5.4" fill="#000"/><rect x="306.7" y="211.0" width="5.4" height="5.4" fill="#000"/><rect x="317.2" y="211.3" width="5.4" height="5.4" fill="#000"/><rect x="327.7" y="210.9" width="5.4" height="5.4" fill="#000"/>
<path d="M319.9 204.5L330.4 201.6L340.9 203.6L351.4 203.9L361.8 206.0L372.3 192.1" stroke="#000" stroke-width="1.25" fill="none" stroke-linejoin="round"/><rect x="317.2" y="201.8" width="5.4" height="5.4" fill="#000"/><rect x="327.7" y="198.9" width="5.4" height="5.4" fill="#000"/><rect x="338.2" y="200.9" width="5.4" height="5.4" fill="#000"/><rect x="348.7" y="201.2" width="5.4" height="5.4" fill="#000"/><rect x="359.1" y="203.3" width="5.4" height="5.4" fill="#000"/><rect x="369.6" y="189.4" width="5.4" height="5.4" fill="#000"/>
<path d="M372.3 192.1L382.8 204.1L393.3 184.7L403.8 151.7L414.2 143.0L424.7 115.6L435.2 91.9L445.7 71.2L456.2 52.9L466.6 40.1L477.1 32.2L487.6 27.8" stroke="#000" stroke-width="1.25" fill="none" stroke-linejoin="round"/><rect x="369.6" y="189.4" width="5.4" height="5.4" fill="#000"/><rect x="390.6" y="182.0" width="5.4" height="5.4" fill="#000"/><rect x="401.1" y="149.0" width="5.4" height="5.4" fill="#000"/><rect x="411.5" y="140.3" width="5.4" height="5.4" fill="#000"/><rect x="422.0" y="112.9" width="5.4" height="5.4" fill="#000"/><rect x="432.5" y="89.2" width="5.4" height="5.4" fill="#000"/><rect x="443.0" y="68.5" width="5.4" height="5.4" fill="#000"/><rect x="453.5" y="50.2" width="5.4" height="5.4" fill="#000"/><rect x="463.9" y="37.4" width="5.4" height="5.4" fill="#000"/><rect x="474.4" y="29.5" width="5.4" height="5.4" fill="#000"/>
<path d="M361.8 206.0L372.3 192.1L382.8 188.5L393.3 180.7L403.8 151.7L414.2 133.4L424.7 116.4L435.2 93.1L445.7 72.3L456.2 53.8L466.6 40.6L477.1 32.8L487.6 28.3" stroke="#000" stroke-width="1.25" fill="none" stroke-linejoin="round"/><rect x="359.1" y="203.3" width="5.4" height="5.4" fill="#000"/><rect x="369.6" y="189.4" width="5.4" height="5.4" fill="#000"/><rect x="380.1" y="185.8" width="5.4" height="5.4" fill="#000"/><rect x="390.6" y="178.0" width="5.4" height="5.4" fill="#000"/><rect x="401.1" y="149.0" width="5.4" height="5.4" fill="#000"/><rect x="411.5" y="130.7" width="5.4" height="5.4" fill="#000"/><rect x="422.0" y="113.7" width="5.4" height="5.4" fill="#000"/><rect x="432.5" y="90.4" width="5.4" height="5.4" fill="#000"/><rect x="443.0" y="69.6" width="5.4" height="5.4" fill="#000"/><rect x="453.5" y="51.1" width="5.4" height="5.4" fill="#000"/><rect x="463.9" y="37.9" width="5.4" height="5.4" fill="#000"/><rect x="474.4" y="30.1" width="5.4" height="5.4" fill="#000"/>
<path d="M351.4 203.9L361.8 199.9L372.3 192.1L382.8 181.3L393.3 167.7L403.8 145.9L414.2 122.9L424.7 104.8L435.2 80.6L445.7 61.0L456.2 46.4L466.6 38.7L477.1 29.8L487.6 25.8" stroke="#000" stroke-width="1.25" fill="none" stroke-linejoin="round"/><rect x="348.7" y="201.2" width="5.4" height="5.4" fill="#000"/><rect x="359.1" y="197.2" width="5.4" height="5.4" fill="#000"/><rect x="369.6" y="189.4" width="5.4" height="5.4" fill="#000"/><rect x="380.1" y="178.6" width="5.4" height="5.4" fill="#000"/><rect x="390.6" y="165.0" width="5.4" height="5.4" fill="#000"/><rect x="401.1" y="143.2" width="5.4" height="5.4" fill="#000"/><rect x="411.5" y="120.2" width="5.4" height="5.4" fill="#000"/><rect x="422.0" y="102.1" width="5.4" height="5.4" fill="#000"/><rect x="432.5" y="77.9" width="5.4" height="5.4" fill="#000"/><rect x="443.0" y="58.3" width="5.4" height="5.4" fill="#000"/><rect x="453.5" y="43.7" width="5.4" height="5.4" fill="#000"/><rect x="463.9" y="36.0" width="5.4" height="5.4" fill="#000"/><rect x="474.4" y="27.1" width="5.4" height="5.4" fill="#000"/>
<path d="M319.9 214.0L330.4 201.6L340.9 190.6L351.4 199.5L361.8 174.9L372.3 147.1L382.8 122.7L393.3 96.3L403.8 74.9L414.2 57.0L424.7 45.1L435.2 36.4L445.7 30.0L456.2 26.1L466.6 23.2L477.1 21.5L487.6 20.2" stroke="#000" stroke-width="1.25" fill="none" stroke-linejoin="round"/><rect x="317.2" y="211.3" width="5.4" height="5.4" fill="#000"/><rect x="327.7" y="198.9" width="5.4" height="5.4" fill="#000"/><rect x="338.2" y="187.9" width="5.4" height="5.4" fill="#000"/><rect x="348.7" y="196.8" width="5.4" height="5.4" fill="#000"/><rect x="359.1" y="172.2" width="5.4" height="5.4" fill="#000"/><rect x="369.6" y="144.4" width="5.4" height="5.4" fill="#000"/><rect x="380.1" y="120.0" width="5.4" height="5.4" fill="#000"/><rect x="390.6" y="93.6" width="5.4" height="5.4" fill="#000"/><rect x="401.1" y="72.2" width="5.4" height="5.4" fill="#000"/><rect x="411.5" y="54.3" width="5.4" height="5.4" fill="#000"/><rect x="422.0" y="42.4" width="5.4" height="5.4" fill="#000"/><rect x="432.5" y="33.7" width="5.4" height="5.4" fill="#000"/><rect x="443.0" y="27.3" width="5.4" height="5.4" fill="#000"/><rect x="453.5" y="23.4" width="5.4" height="5.4" fill="#000"/><rect x="463.9" y="20.5" width="5.4" height="5.4" fill="#000"/><rect x="474.4" y="18.8" width="5.4" height="5.4" fill="#000"/>
<path d="M319.9 204.5L330.4 191.9L340.9 178.4L351.4 185.2L361.8 165.3L372.3 147.1L382.8 122.5L393.3 95.9L403.8 74.5L414.2 56.6L424.7 44.7L435.2 36.0L445.7 29.6L456.2 25.7L466.6 22.8L477.1 21.1L487.6 19.8" stroke="#000" stroke-width="1.25" fill="none" stroke-linejoin="round"/><rect x="317.2" y="201.8" width="5.4" height="5.4" fill="#000"/><rect x="327.7" y="189.2" width="5.4" height="5.4" fill="#000"/><rect x="338.2" y="175.7" width="5.4" height="5.4" fill="#000"/><rect x="348.7" y="182.5" width="5.4" height="5.4" fill="#000"/><rect x="359.1" y="162.6" width="5.4" height="5.4" fill="#000"/><rect x="369.6" y="144.4" width="5.4" height="5.4" fill="#000"/><rect x="380.1" y="119.8" width="5.4" height="5.4" fill="#000"/><rect x="390.6" y="93.2" width="5.4" height="5.4" fill="#000"/><rect x="401.1" y="71.8" width="5.4" height="5.4" fill="#000"/><rect x="411.5" y="53.9" width="5.4" height="5.4" fill="#000"/><rect x="422.0" y="42.0" width="5.4" height="5.4" fill="#000"/><rect x="432.5" y="33.3" width="5.4" height="5.4" fill="#000"/><rect x="443.0" y="26.9" width="5.4" height="5.4" fill="#000"/><rect x="453.5" y="23.0" width="5.4" height="5.4" fill="#000"/><rect x="463.9" y="20.1" width="5.4" height="5.4" fill="#000"/><rect x="474.4" y="18.4" width="5.4" height="5.4" fill="#000"/>
<path d="M309.4 200.1L319.9 195.7L330.4 191.9L340.9 172.4L351.4 178.3L361.8 151.5L372.3 141.9L382.8 117.6L393.3 95.3L403.8 73.9L414.2 56.0L424.7 44.1L435.2 35.4L445.7 29.0L456.2 25.1L466.6 22.2L477.1 20.5L487.6 19.2" stroke="#000" stroke-width="1.25" fill="none" stroke-linejoin="round"/><rect x="306.7" y="197.4" width="5.4" height="5.4" fill="#000"/><rect x="317.2" y="193.0" width="5.4" height="5.4" fill="#000"/><rect x="327.7" y="189.2" width="5.4" height="5.4" fill="#000"/><rect x="338.2" y="169.7" width="5.4" height="5.4" fill="#000"/><rect x="348.7" y="175.6" width="5.4" height="5.4" fill="#000"/><rect x="359.1" y="148.8" width="5.4" height="5.4" fill="#000"/><rect x="369.6" y="139.2" width="5.4" height="5.4" fill="#000"/><rect x="380.1" y="114.9" width="5.4" height="5.4" fill="#000"/><rect x="390.6" y="92.6" width="5.4" height="5.4" fill="#000"/><rect x="401.1" y="71.2" width="5.4" height="5.4" fill="#000"/><rect x="411.5" y="53.3" width="5.4" height="5.4" fill="#000"/><rect x="422.0" y="41.4" width="5.4" height="5.4" fill="#000"/><rect x="432.5" y="32.7" width="5.4" height="5.4" fill="#000"/><rect x="443.0" y="26.3" width="5.4" height="5.4" fill="#000"/><rect x="453.5" y="22.4" width="5.4" height="5.4" fill="#000"/><rect x="463.9" y="19.5" width="5.4" height="5.4" fill="#000"/><rect x="474.4" y="17.8" width="5.4" height="5.4" fill="#000"/>
<path d="M278.0 195.9L288.5 199.0L299.0 192.5L309.4 181.1L319.9 175.1L330.4 147.9L340.9 122.8L351.4 101.9L361.8 78.6L372.3 61.1L382.8 46.4L393.3 36.8L403.8 30.8L414.2 27.0L424.7 24.1L435.2 22.6L445.7 21.4L456.2 20.5L466.6 19.9L477.1 19.3L487.6 18.9" stroke="#000" stroke-width="1.25" fill="none" stroke-linejoin="round"/><rect x="275.3" y="193.2" width="5.4" height="5.4" fill="#000"/><rect x="285.8" y="196.3" width="5.4" height="5.4" fill="#000"/><rect x="296.3" y="189.8" width="5.4" height="5.4" fill="#000"/><rect x="306.7" y="178.4" width="5.4" height="5.4" fill="#000"/><rect x="317.2" y="172.4" width="5.4" height="5.4" fill="#000"/><rect x="327.7" y="145.2" width="5.4" height="5.4" fill="#000"/><rect x="338.2" y="120.1" width="5.4" height="5.4" fill="#000"/><rect x="348.7" y="99.2" width="5.4" height="5.4" fill="#000"/><rect x="359.1" y="75.9" width="5.4" height="5.4" fill="#000"/><rect x="369.6" y="58.4" width="5.4" height="5.4" fill="#000"/><rect x="380.1" y="43.7" width="5.4" height="5.4" fill="#000"/><rect x="390.6" y="34.1" width="5.4" height="5.4" fill="#000"/><rect x="401.1" y="28.1" width="5.4" height="5.4" fill="#000"/><rect x="411.5" y="24.3" width="5.4" height="5.4" fill="#000"/><rect x="422.0" y="21.4" width="5.4" height="5.4" fill="#000"/><rect x="432.5" y="19.9" width="5.4" height="5.4" fill="#000"/><rect x="443.0" y="18.7" width="5.4" height="5.4" fill="#000"/><rect x="453.5" y="17.8" width="5.4" height="5.4" fill="#000"/><rect x="463.9" y="17.2" width="5.4" height="5.4" fill="#000"/><rect x="474.4" y="16.6" width="5.4" height="5.4" fill="#000"/>
<path d="M267.5 216.0L278.0 213.3L288.5 213.8L299.0 192.5L309.4 175.7L319.9 163.0L330.4 147.3L340.9 122.2L351.4 101.3L361.8 78.0L372.3 60.5L382.8 45.8L393.3 36.2L403.8 30.2L414.2 26.4L424.7 23.5L435.2 22.0L445.7 20.8L456.2 19.9L466.6 19.3L477.1 18.7L487.6 18.3" stroke="#000" stroke-width="1.25" fill="none" stroke-linejoin="round"/><rect x="264.9" y="213.8" width="5.2" height="2.8" fill="#000"/><rect x="275.3" y="210.6" width="5.4" height="5.4" fill="#000"/><rect x="285.8" y="211.1" width="5.4" height="5.4" fill="#000"/><rect x="296.3" y="189.8" width="5.4" height="5.4" fill="#000"/><rect x="306.7" y="173.0" width="5.4" height="5.4" fill="#000"/><rect x="317.2" y="160.3" width="5.4" height="5.4" fill="#000"/><rect x="327.7" y="144.6" width="5.4" height="5.4" fill="#000"/><rect x="338.2" y="119.5" width="5.4" height="5.4" fill="#000"/><rect x="348.7" y="98.6" width="5.4" height="5.4" fill="#000"/><rect x="359.1" y="75.3" width="5.4" height="5.4" fill="#000"/><rect x="369.6" y="57.8" width="5.4" height="5.4" fill="#000"/><rect x="380.1" y="43.1" width="5.4" height="5.4" fill="#000"/><rect x="390.6" y="33.5" width="5.4" height="5.4" fill="#000"/><rect x="401.1" y="27.5" width="5.4" height="5.4" fill="#000"/><rect x="411.5" y="23.7" width="5.4" height="5.4" fill="#000"/><rect x="422.0" y="20.8" width="5.4" height="5.4" fill="#000"/><rect x="432.5" y="19.3" width="5.4" height="5.4" fill="#000"/><rect x="443.0" y="18.1" width="5.4" height="5.4" fill="#000"/><rect x="453.5" y="17.2" width="5.4" height="5.4" fill="#000"/><rect x="463.9" y="16.6" width="5.4" height="5.4" fill="#000"/><rect x="474.4" y="16.0" width="5.4" height="5.4" fill="#000"/>
<path d="M278.0 195.9L288.5 173.8L299.0 146.4L309.4 125.8L319.9 101.5L330.4 78.4L340.9 60.7L351.4 46.6L361.8 37.3L372.3 31.0L382.8 27.1L393.3 24.1L403.8 22.1L414.2 20.8L424.7 20.1L435.2 19.5L445.7 19.0L456.2 18.6L466.6 18.4L477.1 18.1L487.6 17.9" stroke="#000" stroke-width="1.25" fill="none" stroke-linejoin="round"/><rect x="275.3" y="193.2" width="5.4" height="5.4" fill="#000"/><rect x="285.8" y="171.1" width="5.4" height="5.4" fill="#000"/><rect x="296.3" y="143.7" width="5.4" height="5.4" fill="#000"/><rect x="306.7" y="123.1" width="5.4" height="5.4" fill="#000"/><rect x="317.2" y="98.8" width="5.4" height="5.4" fill="#000"/><rect x="327.7" y="75.7" width="5.4" height="5.4" fill="#000"/><rect x="338.2" y="58.0" width="5.4" height="5.4" fill="#000"/><rect x="348.7" y="43.9" width="5.4" height="5.4" fill="#000"/><rect x="359.1" y="34.6" width="5.4" height="5.4" fill="#000"/><rect x="369.6" y="28.3" width="5.4" height="5.4" fill="#000"/><rect x="380.1" y="24.4" width="5.4" height="5.4" fill="#000"/><rect x="390.6" y="21.4" width="5.4" height="5.4" fill="#000"/><rect x="401.1" y="19.4" width="5.4" height="5.4" fill="#000"/><rect x="411.5" y="18.1" width="5.4" height="5.4" fill="#000"/><rect x="422.0" y="17.4" width="5.4" height="5.4" fill="#000"/><rect x="432.5" y="16.8" width="5.4" height="5.4" fill="#000"/><rect x="443.0" y="16.3" width="5.4" height="5.4" fill="#000"/><rect x="453.5" y="15.9" width="5.4" height="5.4" fill="#000"/><rect x="463.9" y="15.7" width="5.4" height="5.4" fill="#000"/><rect x="474.4" y="15.4" width="5.4" height="5.4" fill="#000"/>
<path d="M267.5 199.6L278.0 172.7L288.5 164.4L299.0 145.8L309.4 125.2L319.9 100.9L330.4 77.8L340.9 60.1L351.4 46.0L361.8 36.7L372.3 30.4L382.8 26.5L393.3 23.5L403.8 21.5L414.2 20.2L424.7 19.5L435.2 18.9L445.7 18.4L456.2 18.0L466.6 17.8L477.1 17.5L487.6 17.3" stroke="#000" stroke-width="1.25" fill="none" stroke-linejoin="round"/><rect x="264.8" y="196.9" width="5.4" height="5.4" fill="#000"/><rect x="275.3" y="170.0" width="5.4" height="5.4" fill="#000"/><rect x="285.8" y="161.7" width="5.4" height="5.4" fill="#000"/><rect x="296.3" y="143.1" width="5.4" height="5.4" fill="#000"/><rect x="306.7" y="122.5" width="5.4" height="5.4" fill="#000"/><rect x="317.2" y="98.2" width="5.4" height="5.4" fill="#000"/><rect x="327.7" y="75.1" width="5.4" height="5.4" fill="#000"/><rect x="338.2" y="57.4" width="5.4" height="5.4" fill="#000"/><rect x="348.7" y="43.3" width="5.4" height="5.4" fill="#000"/><rect x="359.1" y="34.0" width="5.4" height="5.4" fill="#000"/><rect x="369.6" y="27.7" width="5.4" height="5.4" fill="#000"/><rect x="380.1" y="23.8" width="5.4" height="5.4" fill="#000"/><rect x="390.6" y="20.8" width="5.4" height="5.4" fill="#000"/><rect x="401.1" y="18.8" width="5.4" height="5.4" fill="#000"/><rect x="411.5" y="17.5" width="5.4" height="5.4" fill="#000"/><rect x="422.0" y="16.8" width="5.4" height="5.4" fill="#000"/><rect x="432.5" y="16.2" width="5.4" height="5.4" fill="#000"/><rect x="443.0" y="15.7" width="5.4" height="5.4" fill="#000"/><rect x="453.5" y="15.3" width="5.4" height="5.4" fill="#000"/><rect x="463.9" y="15.1" width="5.4" height="5.4" fill="#000"/><rect x="474.4" y="14.8" width="5.4" height="5.4" fill="#000"/>
<path d="M246.6 216.1L257.0 171.9L267.5 143.6L278.0 115.0L288.5 89.7L299.0 67.4L309.4 50.4L319.9 39.2L330.4 32.3L340.9 27.5L351.4 23.9L361.8 21.9L372.3 20.5L382.8 19.4L393.3 19.0L403.8 18.7L414.2 18.3L424.7 18.0L435.2 17.8L445.7 17.5L456.2 17.3L466.6 17.2L477.1 17.0L487.6 16.9" stroke="#000" stroke-width="1.25" fill="none" stroke-linejoin="round"/><rect x="244.0" y="213.8" width="5.2" height="2.8" fill="#000"/><rect x="254.3" y="169.2" width="5.4" height="5.4" fill="#000"/><rect x="264.8" y="140.9" width="5.4" height="5.4" fill="#000"/><rect x="275.3" y="112.3" width="5.4" height="5.4" fill="#000"/><rect x="285.8" y="87.0" width="5.4" height="5.4" fill="#000"/><rect x="296.3" y="64.7" width="5.4" height="5.4" fill="#000"/><rect x="306.7" y="47.7" width="5.4" height="5.4" fill="#000"/><rect x="317.2" y="36.5" width="5.4" height="5.4" fill="#000"/><rect x="327.7" y="29.6" width="5.4" height="5.4" fill="#000"/><rect x="338.2" y="24.8" width="5.4" height="5.4" fill="#000"/><rect x="348.7" y="21.2" width="5.4" height="5.4" fill="#000"/><rect x="359.1" y="19.2" width="5.4" height="5.4" fill="#000"/><rect x="369.6" y="17.8" width="5.4" height="5.4" fill="#000"/><rect x="380.1" y="16.7" width="5.4" height="5.4" fill="#000"/><rect x="390.6" y="16.3" width="5.4" height="5.4" fill="#000"/><rect x="401.1" y="16.0" width="5.4" height="5.4" fill="#000"/><rect x="411.5" y="15.6" width="5.4" height="5.4" fill="#000"/><rect x="422.0" y="15.3" width="5.4" height="5.4" fill="#000"/><rect x="432.5" y="15.1" width="5.4" height="5.4" fill="#000"/><rect x="443.0" y="14.8" width="5.4" height="5.4" fill="#000"/><rect x="453.5" y="14.6" width="5.4" height="5.4" fill="#000"/><rect x="463.9" y="14.5" width="5.4" height="5.4" fill="#000"/><rect x="474.4" y="14.3" width="5.4" height="5.4" fill="#000"/>
<path d="M246.6 192.8L257.0 163.3L267.5 143.0L278.0 114.3L288.5 89.0L299.0 66.7L309.4 49.7L319.9 38.5L330.4 31.6L340.9 26.8L351.4 23.2L361.8 21.2L372.3 19.8L382.8 18.7L393.3 18.3L403.8 18.0L414.2 17.6L424.7 17.3L435.2 17.1L445.7 16.8L456.2 16.6L466.6 16.5L477.1 16.3L487.6 16.2" stroke="#000" stroke-width="1.25" fill="none" stroke-linejoin="round"/><rect x="243.9" y="190.1" width="5.4" height="5.4" fill="#000"/><rect x="254.3" y="160.6" width="5.4" height="5.4" fill="#000"/><rect x="264.8" y="140.3" width="5.4" height="5.4" fill="#000"/><rect x="275.3" y="111.6" width="5.4" height="5.4" fill="#000"/><rect x="285.8" y="86.3" width="5.4" height="5.4" fill="#000"/><rect x="296.3" y="64.0" width="5.4" height="5.4" fill="#000"/><rect x="306.7" y="47.0" width="5.4" height="5.4" fill="#000"/><rect x="317.2" y="35.8" width="5.4" height="5.4" fill="#000"/><rect x="327.7" y="28.9" width="5.4" height="5.4" fill="#000"/><rect x="338.2" y="24.1" width="5.4" height="5.4" fill="#000"/><rect x="348.7" y="20.5" width="5.4" height="5.4" fill="#000"/><rect x="359.1" y="18.5" width="5.4" height="5.4" fill="#000"/><rect x="369.6" y="17.1" width="5.4" height="5.4" fill="#000"/><rect x="380.1" y="16.0" width="5.4" height="5.4" fill="#000"/><rect x="390.6" y="15.6" width="5.4" height="5.4" fill="#000"/><rect x="401.1" y="15.3" width="5.4" height="5.4" fill="#000"/><rect x="411.5" y="14.9" width="5.4" height="5.4" fill="#000"/><rect x="422.0" y="14.6" width="5.4" height="5.4" fill="#000"/><rect x="432.5" y="14.4" width="5.4" height="5.4" fill="#000"/><rect x="443.0" y="14.1" width="5.4" height="5.4" fill="#000"/><rect x="453.5" y="13.9" width="5.4" height="5.4" fill="#000"/><rect x="463.9" y="13.8" width="5.4" height="5.4" fill="#000"/><rect x="474.4" y="13.6" width="5.4" height="5.4" fill="#000"/>
<rect x="86.7" y="193.2" width="5.4" height="5.4" fill="#000"/>
<rect x="86.7" y="200.7" width="5.4" height="5.4" fill="#000"/>
<rect x="86.7" y="215.2" width="5.4" height="2.4" fill="#000"/>
<rect x="128.6" y="206.6" width="5.4" height="7.0" fill="#000"/>
<rect x="160.0" y="209.0" width="5.4" height="5.4" fill="#000"/>
<rect x="201.9" y="203.1" width="5.4" height="5.4" fill="#000"/>
</g>
<path d="M68.4 120.8L486.6 121.5" stroke="#000" stroke-width="1.35"/>
<rect x="68.1" y="116.6" width="3" height="9.6" fill="#000"/>
<rect x="484.0" y="117.8" width="3" height="8.4" fill="#000"/>
<path d="M68.40 4.65L485.80 5.55L486.80 216.40" stroke="#000" stroke-width="1.3" fill="none"/>
<path d="M68.40 4.05V216.40" stroke="#000" stroke-width="1.5" fill="none"/>
<path d="M67.70 216.40H487.20" stroke="#000" stroke-width="1.6" fill="none"/>
<path d="M68.40 216.40v6M78.88 216.40v6M89.36 216.40v6M99.84 216.40v6M110.32 216.40v6M120.80 216.40v6M131.28 216.40v6M141.76 216.40v6M152.24 216.40v6M162.72 216.40v6M173.20 216.40v6M183.68 216.40v6M194.16 216.40v6M204.64 216.40v6M215.12 216.40v6M225.60 216.40v6M236.08 216.40v6M246.56 216.40v6M257.04 216.40v6M267.52 216.40v6M278.00 216.40v6M288.48 216.40v6M298.96 216.40v6M309.44 216.40v6M319.92 216.40v6M330.40 216.40v6M340.88 216.40v6M351.36 216.40v6M361.84 216.40v6M372.32 216.40v6M382.80 216.40v6M393.28 216.40v6M403.76 216.40v6M414.24 216.40v6M424.72 216.40v6M435.20 216.40v6M445.68 216.40v6M456.16 216.40v6M466.64 216.40v6M477.12 216.40v6M486.60 216.40v6" stroke="#000" stroke-width="1.1"/>
<path d="M68.40 5.74h-6.2M68.40 9.34h-6.2M68.40 13.37h-6.2M68.40 17.93h-6.2M68.40 23.20h-6.2M68.40 29.43h-6.2M68.40 37.06h-6.2M68.40 46.89h-6.2M68.40 60.75h-6.2M68.40 84.44h-6.2M68.40 88.04h-6.2M68.40 92.07h-6.2M68.40 96.63h-6.2M68.40 101.90h-6.2M68.40 108.13h-6.2M68.40 115.76h-6.2M68.40 125.59h-6.2M68.40 139.45h-6.2M68.40 163.14h-6.2M68.40 166.74h-6.2M68.40 170.77h-6.2M68.40 175.33h-6.2M68.40 180.60h-6.2M68.40 186.83h-6.2M68.40 194.46h-6.2M68.40 204.29h-6.2" stroke="#000" stroke-width="1.1"/>
<text x="68.9" y="241.2" font-size="9.6" text-anchor="middle" fill="#000">0</text>
<text x="90.6" y="241.1" font-size="9.6" text-anchor="middle" fill="#000">2</text>
<text x="111.0" y="241.0" font-size="9.6" text-anchor="middle" fill="#000">4</text>
<text x="132.8" y="240.9" font-size="9.6" text-anchor="middle" fill="#000">6</text>
<text x="154.9" y="240.8" font-size="9.6" text-anchor="middle" fill="#000">8</text>
<text x="173.7" y="240.7" font-size="9.6" text-anchor="middle" fill="#000">10</text>
<text x="196.6" y="240.5" font-size="9.6" text-anchor="middle" fill="#000">12</text>
<text x="216.1" y="240.4" font-size="9.6" text-anchor="middle" fill="#000">14</text>
<text x="237.9" y="240.3" font-size="9.6" text-anchor="middle" fill="#000">16</text>
<text x="259.7" y="240.2" font-size="9.6" text-anchor="middle" fill="#000">18</text>
<text x="279.1" y="240.1" font-size="9.6" text-anchor="middle" fill="#000">20</text>
<text x="301.3" y="240.0" font-size="9.6" text-anchor="middle" fill="#000">22</text>
<text x="320.0" y="239.9" font-size="9.6" text-anchor="middle" fill="#000">24</text>
<text x="342.1" y="239.8" font-size="9.6" text-anchor="middle" fill="#000">26</text>
<text x="364.6" y="239.6" font-size="9.6" text-anchor="middle" fill="#000">28</text>
<text x="386.8" y="239.5" font-size="9.6" text-anchor="middle" fill="#000">30</text>
<text x="405.3" y="239.4" font-size="9.6" text-anchor="middle" fill="#000">32</text>
<text x="425.3" y="239.3" font-size="9.6" text-anchor="middle" fill="#000">34</text>
<text x="447.3" y="239.2" font-size="9.6" text-anchor="middle" fill="#000">36</text>
<text x="469.2" y="239.1" font-size="9.6" text-anchor="middle" fill="#000">38</text>
<text x="488.1" y="239.0" font-size="9.6" text-anchor="middle" fill="#000">40</text>
<text x="278.8" y="265.5" font-size="15.5" text-anchor="middle" textLength="41.6" lengthAdjust="spacingAndGlyphs" fill="#000">Cycle</text>
<text x="42.5" y="15.8" font-size="12" fill="#000">10<tspan font-size="7.8" dy="-3.6">0</tspan></text>
<text x="42.9" y="91.6" font-size="12" fill="#000">10<tspan font-size="7.8" dy="-3.6">1</tspan></text>
<text x="43.4" y="171" font-size="12" fill="#000">10<tspan font-size="7.8" dy="-3.6">2</tspan></text>
<text x="0.8" y="21.2" font-size="24.3" fill="#000">A</text>
<g transform="translate(28.3 142.2) rotate(-90)"><text x="20.5" y="0" font-size="14.8" fill="#000">Rn</text><path d="M0 0L6.9 -13.8L13.9 0ZM4.6 -2.1L10.9 -2.1L7.9 -8.4Z" fill="#000" fill-rule="evenodd"/></g>
<rect x="242.6" y="100.9" width="28.8" height="14.8" fill="#fff" stroke="#111" stroke-width="1.15"/><text x="257.0" y="112.1" font-size="10" text-anchor="middle" fill="#000">5000</text>
<rect x="287.1" y="100.7" width="22.2" height="14.8" fill="#fff" stroke="#111" stroke-width="1.15"/><text x="298.3" y="111.9" font-size="10" text-anchor="middle" fill="#000">500</text>
<rect x="325.1" y="100.5" width="16.2" height="14.8" fill="#fff" stroke="#111" stroke-width="1.15"/><text x="333.3" y="111.7" font-size="10" text-anchor="middle" fill="#000">50</text>
<rect x="359.9" y="100.3" width="11.5" height="14.8" fill="#fff" stroke="#111" stroke-width="1.15"/><text x="365.6" y="111.5" font-size="10" text-anchor="middle" fill="#000">5</text>
<rect x="396.6" y="100.1" width="19.8" height="14.8" fill="#fff" stroke="#111" stroke-width="1.15"/><text x="406.5" y="111.3" font-size="10" text-anchor="middle" fill="#000">0.5</text>
<g fill="#fff" stroke="#777" stroke-width="0.6"><circle cx="91.66" cy="500.85" r="1.1"/><circle cx="91.66" cy="480.89" r="1.1"/><circle cx="91.66" cy="460.93" r="1.1"/><circle cx="91.66" cy="440.97" r="1.1"/><circle cx="91.66" cy="421.01" r="1.1"/><circle cx="91.66" cy="401.05" r="1.1"/><circle cx="91.66" cy="381.09" r="1.1"/><circle cx="91.66" cy="361.13" r="1.1"/><circle cx="91.66" cy="341.17" r="1.1"/><circle cx="91.66" cy="321.21" r="1.1"/><circle cx="104.62" cy="500.85" r="1.1"/><circle cx="104.62" cy="480.89" r="1.1"/><circle cx="104.62" cy="460.93" r="1.1"/><circle cx="104.62" cy="440.97" r="1.1"/><circle cx="104.62" cy="421.01" r="1.1"/><circle cx="104.62" cy="401.05" r="1.1"/><circle cx="104.62" cy="381.09" r="1.1"/><circle cx="104.62" cy="361.13" r="1.1"/><circle cx="104.62" cy="341.17" r="1.1"/><circle cx="104.62" cy="321.21" r="1.1"/><circle cx="120.94" cy="500.85" r="1.1"/><circle cx="120.94" cy="480.89" r="1.1"/><circle cx="120.94" cy="460.93" r="1.1"/><circle cx="120.94" cy="440.97" r="1.1"/><circle cx="120.94" cy="421.01" r="1.1"/><circle cx="120.94" cy="401.05" r="1.1"/><circle cx="120.94" cy="381.09" r="1.1"/><circle cx="120.94" cy="361.13" r="1.1"/><circle cx="120.94" cy="341.17" r="1.1"/><circle cx="120.94" cy="321.21" r="1.1"/><circle cx="126.77" cy="500.85" r="1.1"/><circle cx="126.77" cy="480.89" r="1.1"/><circle cx="126.77" cy="460.93" r="1.1"/><circle cx="126.77" cy="440.97" r="1.1"/><circle cx="126.77" cy="421.01" r="1.1"/><circle cx="126.77" cy="401.05" r="1.1"/><circle cx="126.77" cy="381.09" r="1.1"/><circle cx="126.77" cy="361.13" r="1.1"/><circle cx="126.77" cy="341.17" r="1.1"/><circle cx="126.77" cy="321.21" r="1.1"/><circle cx="135.97" cy="500.85" r="1.1"/><circle cx="135.97" cy="480.89" r="1.1"/><circle cx="135.97" cy="460.93" r="1.1"/><circle cx="135.97" cy="440.97" r="1.1"/><circle cx="135.97" cy="421.01" r="1.1"/><circle cx="135.97" cy="401.05" r="1.1"/><circle cx="135.97" cy="381.09" r="1.1"/><circle cx="135.97" cy="361.13" r="1.1"/><circle cx="135.97" cy="341.17" r="1.1"/><circle cx="135.97" cy="321.21" r="1.1"/><circle cx="143.10" cy="500.85" r="1.1"/><circle cx="143.10" cy="480.89" r="1.1"/><circle cx="143.10" cy="460.93" r="1.1"/><circle cx="143.10" cy="440.97" r="1.1"/><circle cx="143.10" cy="421.01" r="1.1"/><circle cx="143.10" cy="401.05" r="1.1"/><circle cx="143.10" cy="381.09" r="1.1"/><circle cx="143.10" cy="361.13" r="1.1"/><circle cx="143.10" cy="341.17" r="1.1"/><circle cx="143.10" cy="321.21" r="1.1"/><circle cx="165.26" cy="500.85" r="1.1"/><circle cx="165.26" cy="480.89" r="1.1"/><circle cx="165.26" cy="460.93" r="1.1"/><circle cx="165.26" cy="440.97" r="1.1"/><circle cx="165.26" cy="421.01" r="1.1"/><circle cx="165.26" cy="401.05" r="1.1"/><circle cx="165.26" cy="381.09" r="1.1"/><circle cx="165.26" cy="361.13" r="1.1"/><circle cx="165.26" cy="341.17" r="1.1"/><circle cx="165.26" cy="321.21" r="1.1"/><circle cx="178.22" cy="500.85" r="1.1"/><circle cx="178.22" cy="480.89" r="1.1"/><circle cx="178.22" cy="460.93" r="1.1"/><circle cx="178.22" cy="440.97" r="1.1"/><circle cx="178.22" cy="421.01" r="1.1"/><circle cx="178.22" cy="401.05" r="1.1"/><circle cx="178.22" cy="381.09" r="1.1"/><circle cx="178.22" cy="361.13" r="1.1"/><circle cx="178.22" cy="341.17" r="1.1"/><circle cx="178.22" cy="321.21" r="1.1"/><circle cx="194.54" cy="500.85" r="1.1"/><circle cx="194.54" cy="480.89" r="1.1"/><circle cx="194.54" cy="460.93" r="1.1"/><circle cx="194.54" cy="440.97" r="1.1"/><circle cx="194.54" cy="421.01" r="1.1"/><circle cx="194.54" cy="401.05" r="1.1"/><circle cx="194.54" cy="381.09" r="1.1"/><circle cx="194.54" cy="361.13" r="1.1"/><circle cx="194.54" cy="341.17" r="1.1"/><circle cx="194.54" cy="321.21" r="1.1"/><circle cx="200.37" cy="500.85" r="1.1"/><circle cx="200.37" cy="480.89" r="1.1"/><circle cx="200.37" cy="460.93" r="1.1"/><circle cx="200.37" cy="440.97" r="1.1"/><circle cx="200.37" cy="421.01" r="1.1"/><circle cx="200.37" cy="401.05" r="1.1"/><circle cx="200.37" cy="381.09" r="1.1"/><circle cx="200.37" cy="361.13" r="1.1"/><circle cx="200.37" cy="341.17" r="1.1"/><circle cx="200.37" cy="321.21" r="1.1"/><circle cx="209.57" cy="500.85" r="1.1"/><circle cx="209.57" cy="480.89" r="1.1"/><circle cx="209.57" cy="460.93" r="1.1"/><circle cx="209.57" cy="440.97" r="1.1"/><circle cx="209.57" cy="421.01" r="1.1"/><circle cx="209.57" cy="401.05" r="1.1"/><circle cx="209.57" cy="381.09" r="1.1"/><circle cx="209.57" cy="361.13" r="1.1"/><circle cx="209.57" cy="341.17" r="1.1"/><circle cx="209.57" cy="321.21" r="1.1"/><circle cx="216.70" cy="500.85" r="1.1"/><circle cx="216.70" cy="480.89" r="1.1"/><circle cx="216.70" cy="460.93" r="1.1"/><circle cx="216.70" cy="440.97" r="1.1"/><circle cx="216.70" cy="421.01" r="1.1"/><circle cx="216.70" cy="401.05" r="1.1"/><circle cx="216.70" cy="381.09" r="1.1"/><circle cx="216.70" cy="361.13" r="1.1"/><circle cx="216.70" cy="341.17" r="1.1"/><circle cx="216.70" cy="321.21" r="1.1"/><circle cx="238.86" cy="500.85" r="1.1"/><circle cx="238.86" cy="480.89" r="1.1"/><circle cx="238.86" cy="460.93" r="1.1"/><circle cx="238.86" cy="440.97" r="1.1"/><circle cx="238.86" cy="421.01" r="1.1"/><circle cx="238.86" cy="401.05" r="1.1"/><circle cx="238.86" cy="381.09" r="1.1"/><circle cx="238.86" cy="361.13" r="1.1"/><circle cx="238.86" cy="341.17" r="1.1"/><circle cx="238.86" cy="321.21" r="1.1"/><circle cx="251.82" cy="500.85" r="1.1"/><circle cx="251.82" cy="480.89" r="1.1"/><circle cx="251.82" cy="460.93" r="1.1"/><circle cx="251.82" cy="440.97" r="1.1"/><circle cx="251.82" cy="421.01" r="1.1"/><circle cx="251.82" cy="401.05" r="1.1"/><circle cx="251.82" cy="381.09" r="1.1"/><circle cx="251.82" cy="361.13" r="1.1"/><circle cx="251.82" cy="341.17" r="1.1"/><circle cx="251.82" cy="321.21" r="1.1"/><circle cx="268.14" cy="500.85" r="1.1"/><circle cx="268.14" cy="480.89" r="1.1"/><circle cx="268.14" cy="460.93" r="1.1"/><circle cx="268.14" cy="440.97" r="1.1"/><circle cx="268.14" cy="421.01" r="1.1"/><circle cx="268.14" cy="401.05" r="1.1"/><circle cx="268.14" cy="381.09" r="1.1"/><circle cx="268.14" cy="361.13" r="1.1"/><circle cx="268.14" cy="341.17" r="1.1"/><circle cx="268.14" cy="321.21" r="1.1"/><circle cx="273.97" cy="500.85" r="1.1"/><circle cx="273.97" cy="480.89" r="1.1"/><circle cx="273.97" cy="460.93" r="1.1"/><circle cx="273.97" cy="440.97" r="1.1"/><circle cx="273.97" cy="421.01" r="1.1"/><circle cx="273.97" cy="401.05" r="1.1"/><circle cx="273.97" cy="381.09" r="1.1"/><circle cx="273.97" cy="361.13" r="1.1"/><circle cx="273.97" cy="341.17" r="1.1"/><circle cx="273.97" cy="321.21" r="1.1"/><circle cx="283.17" cy="500.85" r="1.1"/><circle cx="283.17" cy="480.89" r="1.1"/><circle cx="283.17" cy="460.93" r="1.1"/><circle cx="283.17" cy="440.97" r="1.1"/><circle cx="283.17" cy="421.01" r="1.1"/><circle cx="283.17" cy="401.05" r="1.1"/><circle cx="283.17" cy="381.09" r="1.1"/><circle cx="283.17" cy="361.13" r="1.1"/><circle cx="283.17" cy="341.17" r="1.1"/><circle cx="283.17" cy="321.21" r="1.1"/><circle cx="290.30" cy="500.85" r="1.1"/><circle cx="290.30" cy="480.89" r="1.1"/><circle cx="290.30" cy="460.93" r="1.1"/><circle cx="290.30" cy="440.97" r="1.1"/><circle cx="290.30" cy="421.01" r="1.1"/><circle cx="290.30" cy="401.05" r="1.1"/><circle cx="290.30" cy="381.09" r="1.1"/><circle cx="290.30" cy="361.13" r="1.1"/><circle cx="290.30" cy="341.17" r="1.1"/><circle cx="290.30" cy="321.21" r="1.1"/><circle cx="312.45" cy="500.85" r="1.1"/><circle cx="312.45" cy="480.89" r="1.1"/><circle cx="312.45" cy="460.93" r="1.1"/><circle cx="312.45" cy="440.97" r="1.1"/><circle cx="312.45" cy="421.01" r="1.1"/><circle cx="312.45" cy="401.05" r="1.1"/><circle cx="312.45" cy="381.09" r="1.1"/><circle cx="312.45" cy="361.13" r="1.1"/><circle cx="312.45" cy="341.17" r="1.1"/><circle cx="312.45" cy="321.21" r="1.1"/><circle cx="325.16" cy="500.85" r="1.1"/><circle cx="325.16" cy="480.89" r="1.1"/><circle cx="325.16" cy="460.93" r="1.1"/><circle cx="325.16" cy="440.97" r="1.1"/><circle cx="325.16" cy="421.01" r="1.1"/><circle cx="325.16" cy="401.05" r="1.1"/><circle cx="325.16" cy="381.09" r="1.1"/><circle cx="325.16" cy="361.13" r="1.1"/><circle cx="325.16" cy="341.17" r="1.1"/><circle cx="325.16" cy="321.21" r="1.1"/><circle cx="341.24" cy="500.85" r="1.1"/><circle cx="341.24" cy="480.89" r="1.1"/><circle cx="341.24" cy="460.93" r="1.1"/><circle cx="341.24" cy="440.97" r="1.1"/><circle cx="341.24" cy="421.01" r="1.1"/><circle cx="341.24" cy="401.05" r="1.1"/><circle cx="341.24" cy="381.09" r="1.1"/><circle cx="341.24" cy="361.13" r="1.1"/><circle cx="341.24" cy="341.17" r="1.1"/><circle cx="341.24" cy="321.21" r="1.1"/><circle cx="347.07" cy="500.85" r="1.1"/><circle cx="347.07" cy="480.89" r="1.1"/><circle cx="347.07" cy="460.93" r="1.1"/><circle cx="347.07" cy="440.97" r="1.1"/><circle cx="347.07" cy="421.01" r="1.1"/><circle cx="347.07" cy="401.05" r="1.1"/><circle cx="347.07" cy="381.09" r="1.1"/><circle cx="347.07" cy="361.13" r="1.1"/><circle cx="347.07" cy="341.17" r="1.1"/><circle cx="347.07" cy="321.21" r="1.1"/><circle cx="356.27" cy="500.85" r="1.1"/><circle cx="356.27" cy="480.89" r="1.1"/><circle cx="356.27" cy="460.93" r="1.1"/><circle cx="356.27" cy="440.97" r="1.1"/><circle cx="356.27" cy="421.01" r="1.1"/><circle cx="356.27" cy="401.05" r="1.1"/><circle cx="356.27" cy="381.09" r="1.1"/><circle cx="356.27" cy="361.13" r="1.1"/><circle cx="356.27" cy="341.17" r="1.1"/><circle cx="356.27" cy="321.21" r="1.1"/><circle cx="363.40" cy="500.85" r="1.1"/><circle cx="363.40" cy="480.89" r="1.1"/><circle cx="363.40" cy="460.93" r="1.1"/><circle cx="363.40" cy="440.97" r="1.1"/><circle cx="363.40" cy="421.01" r="1.1"/><circle cx="363.40" cy="401.05" r="1.1"/><circle cx="363.40" cy="381.09" r="1.1"/><circle cx="363.40" cy="361.13" r="1.1"/><circle cx="363.40" cy="341.17" r="1.1"/><circle cx="363.40" cy="321.21" r="1.1"/><circle cx="385.56" cy="500.85" r="1.1"/><circle cx="385.56" cy="480.89" r="1.1"/><circle cx="385.56" cy="460.93" r="1.1"/><circle cx="385.56" cy="440.97" r="1.1"/><circle cx="385.56" cy="421.01" r="1.1"/><circle cx="385.56" cy="401.05" r="1.1"/><circle cx="385.56" cy="381.09" r="1.1"/><circle cx="385.56" cy="361.13" r="1.1"/><circle cx="385.56" cy="341.17" r="1.1"/><circle cx="385.56" cy="321.21" r="1.1"/><circle cx="398.52" cy="500.85" r="1.1"/><circle cx="398.52" cy="480.89" r="1.1"/><circle cx="398.52" cy="460.93" r="1.1"/><circle cx="398.52" cy="440.97" r="1.1"/><circle cx="398.52" cy="421.01" r="1.1"/><circle cx="398.52" cy="401.05" r="1.1"/><circle cx="398.52" cy="381.09" r="1.1"/><circle cx="398.52" cy="361.13" r="1.1"/><circle cx="398.52" cy="341.17" r="1.1"/><circle cx="398.52" cy="321.21" r="1.1"/><circle cx="414.84" cy="500.85" r="1.1"/><circle cx="414.84" cy="480.89" r="1.1"/><circle cx="414.84" cy="460.93" r="1.1"/><circle cx="414.84" cy="440.97" r="1.1"/><circle cx="414.84" cy="421.01" r="1.1"/><circle cx="414.84" cy="401.05" r="1.1"/><circle cx="414.84" cy="381.09" r="1.1"/><circle cx="414.84" cy="361.13" r="1.1"/><circle cx="414.84" cy="341.17" r="1.1"/><circle cx="414.84" cy="321.21" r="1.1"/><circle cx="420.67" cy="500.85" r="1.1"/><circle cx="420.67" cy="480.89" r="1.1"/><circle cx="420.67" cy="460.93" r="1.1"/><circle cx="420.67" cy="440.97" r="1.1"/><circle cx="420.67" cy="421.01" r="1.1"/><circle cx="420.67" cy="401.05" r="1.1"/><circle cx="420.67" cy="381.09" r="1.1"/><circle cx="420.67" cy="361.13" r="1.1"/><circle cx="420.67" cy="341.17" r="1.1"/><circle cx="420.67" cy="321.21" r="1.1"/><circle cx="429.87" cy="500.85" r="1.1"/><circle cx="429.87" cy="480.89" r="1.1"/><circle cx="429.87" cy="460.93" r="1.1"/><circle cx="429.87" cy="440.97" r="1.1"/><circle cx="429.87" cy="421.01" r="1.1"/><circle cx="429.87" cy="401.05" r="1.1"/><circle cx="429.87" cy="381.09" r="1.1"/><circle cx="429.87" cy="361.13" r="1.1"/><circle cx="429.87" cy="341.17" r="1.1"/><circle cx="429.87" cy="321.21" r="1.1"/><circle cx="437.00" cy="500.85" r="1.1"/><circle cx="437.00" cy="480.89" r="1.1"/><circle cx="437.00" cy="460.93" r="1.1"/><circle cx="437.00" cy="440.97" r="1.1"/><circle cx="437.00" cy="421.01" r="1.1"/><circle cx="437.00" cy="401.05" r="1.1"/><circle cx="437.00" cy="381.09" r="1.1"/><circle cx="437.00" cy="361.13" r="1.1"/><circle cx="437.00" cy="341.17" r="1.1"/><circle cx="437.00" cy="321.21" r="1.1"/><circle cx="459.16" cy="500.85" r="1.1"/><circle cx="459.16" cy="480.89" r="1.1"/><circle cx="459.16" cy="460.93" r="1.1"/><circle cx="459.16" cy="440.97" r="1.1"/><circle cx="459.16" cy="421.01" r="1.1"/><circle cx="459.16" cy="401.05" r="1.1"/><circle cx="459.16" cy="381.09" r="1.1"/><circle cx="459.16" cy="361.13" r="1.1"/><circle cx="459.16" cy="341.17" r="1.1"/><circle cx="459.16" cy="321.21" r="1.1"/><circle cx="472.12" cy="500.85" r="1.1"/><circle cx="472.12" cy="480.89" r="1.1"/><circle cx="472.12" cy="460.93" r="1.1"/><circle cx="472.12" cy="440.97" r="1.1"/><circle cx="472.12" cy="421.01" r="1.1"/><circle cx="472.12" cy="401.05" r="1.1"/><circle cx="472.12" cy="381.09" r="1.1"/><circle cx="472.12" cy="361.13" r="1.1"/><circle cx="472.12" cy="341.17" r="1.1"/><circle cx="472.12" cy="321.21" r="1.1"/><circle cx="488.44" cy="500.85" r="1.1"/><circle cx="488.44" cy="480.89" r="1.1"/><circle cx="488.44" cy="460.93" r="1.1"/><circle cx="488.44" cy="440.97" r="1.1"/><circle cx="488.44" cy="421.01" r="1.1"/><circle cx="488.44" cy="401.05" r="1.1"/><circle cx="488.44" cy="381.09" r="1.1"/><circle cx="488.44" cy="361.13" r="1.1"/><circle cx="488.44" cy="341.17" r="1.1"/><circle cx="488.44" cy="321.21" r="1.1"/><circle cx="494.27" cy="500.85" r="1.1"/><circle cx="494.27" cy="480.89" r="1.1"/><circle cx="494.27" cy="460.93" r="1.1"/><circle cx="494.27" cy="440.97" r="1.1"/><circle cx="494.27" cy="421.01" r="1.1"/><circle cx="494.27" cy="401.05" r="1.1"/><circle cx="494.27" cy="381.09" r="1.1"/><circle cx="494.27" cy="361.13" r="1.1"/><circle cx="494.27" cy="341.17" r="1.1"/><circle cx="494.27" cy="321.21" r="1.1"/><circle cx="503.47" cy="500.85" r="1.1"/><circle cx="503.47" cy="480.89" r="1.1"/><circle cx="503.47" cy="460.93" r="1.1"/><circle cx="503.47" cy="440.97" r="1.1"/><circle cx="503.47" cy="421.01" r="1.1"/><circle cx="503.47" cy="401.05" r="1.1"/><circle cx="503.47" cy="381.09" r="1.1"/><circle cx="503.47" cy="361.13" r="1.1"/><circle cx="503.47" cy="341.17" r="1.1"/><circle cx="503.47" cy="321.21" r="1.1"/></g>
<path d="M71.2 359.9L509.4 441.6" stroke="#000" stroke-width="1.2"/>
<g fill="#858585"><circle cx="73.4" cy="360.3" r="3.2"/><circle cx="76.4" cy="360.8" r="3.2"/><circle cx="79.4" cy="361.2" r="3.2"/><circle cx="84.4" cy="362.8" r="3.2"/><circle cx="88.4" cy="363.5" r="3.2"/><circle cx="92.5" cy="364.2" r="3.2"/><circle cx="108.5" cy="367.1" r="3.2"/><circle cx="111.5" cy="367.8" r="3.2"/><circle cx="114.5" cy="368.1" r="3.2"/><circle cx="136.5" cy="370.9" r="3.2"/><circle cx="140.0" cy="372.3" r="3.2"/><circle cx="142.5" cy="372.0" r="3.2"/><circle cx="158.6" cy="376.6" r="3.2"/><circle cx="162.6" cy="377.3" r="3.2"/><circle cx="167.6" cy="378.1" r="3.2"/><circle cx="172.6" cy="378.9" r="3.2"/><circle cx="176.6" cy="379.5" r="3.2"/><circle cx="230.7" cy="388.6" r="3.2"/><circle cx="235.7" cy="389.5" r="3.2"/><circle cx="251.8" cy="393.0" r="3.2"/><circle cx="254.8" cy="393.6" r="3.2"/><circle cx="259.8" cy="394.8" r="3.2"/><circle cx="263.3" cy="395.6" r="3.2"/><circle cx="274.3" cy="397.3" r="3.2"/><circle cx="278.3" cy="397.9" r="3.2"/><circle cx="283.8" cy="398.7" r="3.2"/><circle cx="286.9" cy="399.5" r="3.2"/><circle cx="291.4" cy="401.0" r="3.2"/><circle cx="294.9" cy="401.7" r="3.2"/><circle cx="297.9" cy="402.1" r="3.2"/><circle cx="314.4" cy="404.7" r="3.2"/><circle cx="318.9" cy="405.5" r="3.2"/><circle cx="347.0" cy="410.9" r="3.2"/><circle cx="351.0" cy="411.7" r="3.2"/><circle cx="445.7" cy="429.2" r="3.2"/><circle cx="470.2" cy="434.0" r="3.2"/><circle cx="473.8" cy="434.6" r="3.2"/><circle cx="476.8" cy="435.0" r="3.2"/></g>
<g fill="#000"><rect x="117.1" y="363.8" width="6.8" height="9.0" rx="2.9" ry="3.1"/><rect x="190.7" y="377.6" width="6.8" height="8.8" rx="2.9" ry="3.1"/><rect x="264.4" y="391.9" width="6.6" height="7.6" rx="2.9" ry="3.1"/><rect x="337.9" y="405.8" width="6.8" height="7.4" rx="2.9" ry="3.1"/><rect x="411.5" y="419.7" width="6.8" height="7.0" rx="2.9" ry="3.1"/></g>
<path d="M71.20 301.20H509.40V519.60" stroke="#000" stroke-width="1.2" fill="none"/>
<path d="M71.20 300.60V519.60" stroke="#000" stroke-width="1.4" fill="none"/>
<path d="M62.20 519.60H510.00" stroke="#000" stroke-width="1.5" fill="none"/>
<path d="M71.20 500.85h-8M71.20 480.89h-8M71.20 460.93h-8M71.20 440.97h-8M71.20 421.01h-8M71.20 401.05h-8M71.20 381.09h-8M71.20 361.13h-8M71.20 341.17h-8M71.20 321.21h-8M71.20 301.25h-8M143.10 519.60v7M216.70 519.60v7M290.30 519.60v7M363.40 519.60v7M437.00 519.60v7M509.40 519.60v7" stroke="#000" stroke-width="1.1"/>
<text x="61.4" y="505.9" font-size="12.8" text-anchor="end" fill="#000">0.0</text>
<text x="61.3" y="485.9" font-size="12.8" text-anchor="end" fill="#000">5.0</text>
<text x="61.2" y="465.9" font-size="12.8" text-anchor="end" fill="#000">10.0</text>
<text x="61.1" y="446.0" font-size="12.8" text-anchor="end" fill="#000">15.0</text>
<text x="61.0" y="426.0" font-size="12.8" text-anchor="end" fill="#000">20.0</text>
<text x="60.8" y="406.1" font-size="12.8" text-anchor="end" fill="#000">25.0</text>
<text x="60.7" y="386.1" font-size="12.8" text-anchor="end" fill="#000">30.0</text>
<text x="60.6" y="366.1" font-size="12.8" text-anchor="end" fill="#000">35.0</text>
<text x="60.5" y="346.2" font-size="12.8" text-anchor="end" fill="#000">40.0</text>
<text x="60.4" y="326.2" font-size="12.8" text-anchor="end" fill="#000">45.0</text>
<text x="60.3" y="306.2" font-size="12.8" text-anchor="end" fill="#000">50.0</text>
<text x="130.3" y="545.2" font-size="13.2" fill="#000">10<tspan font-size="9.2" dy="-4.2">0</tspan></text>
<text x="203.9" y="545.2" font-size="13.2" fill="#000">10<tspan font-size="9.2" dy="-4.2">1</tspan></text>
<text x="277.5" y="545.2" font-size="13.2" fill="#000">10<tspan font-size="9.2" dy="-4.2">2</tspan></text>
<text x="350.6" y="545.2" font-size="13.2" fill="#000">10<tspan font-size="9.2" dy="-4.2">3</tspan></text>
<text x="424.2" y="545.2" font-size="13.2" fill="#000">10<tspan font-size="9.2" dy="-4.2">4</tspan></text>
<text x="500.7" y="545.2" font-size="13.2" fill="#000">10<tspan font-size="9.2" dy="-4.2">5</tspan></text>
<text x="3.6" y="313.2" font-size="21.5" fill="#000">B</text>
<g transform="translate(15.5 484.6) rotate(-90)"><text x="0" y="0" font-size="15" fill="#000">Threshold Cycle (C<tspan font-size="9.5" dy="2.5">T</tspan><tspan dy="-2.5">)</tspan></text></g>
<text x="175.8" y="566.6" font-size="15.5" textLength="211.6" lengthAdjust="spacingAndGlyphs" fill="#000">Starting quantity (fg pB-VP1)</text>
<circle cx="114.3" cy="598.6" r="5" fill="#858585"/><circle cx="114.3" cy="631.2" r="5" fill="#000"/>
<text x="131.0" y="605.6" font-size="15.1" fill="#000">Samples</text>
<text x="131.0" y="641.0" font-size="15.3" fill="#000">Standards</text>
<text x="288.4" y="603.5" font-size="12.9" fill="#000">Slope</text>
<text x="288.4" y="620.9" font-size="12.9" fill="#000">Y-intercept</text>
<text x="288.4" y="638.7" font-size="12.9" textLength="189" lengthAdjust="spacingAndGlyphs" fill="#000">Correlation Coefficient = 0.997</text>
<text x="431.6" y="602.7" font-size="13.1" fill="#000">= -3.433</text>
<text x="431.6" y="620.1" font-size="13.1" fill="#000">= 32.011</text>
</g>
</svg>
</body></html>
